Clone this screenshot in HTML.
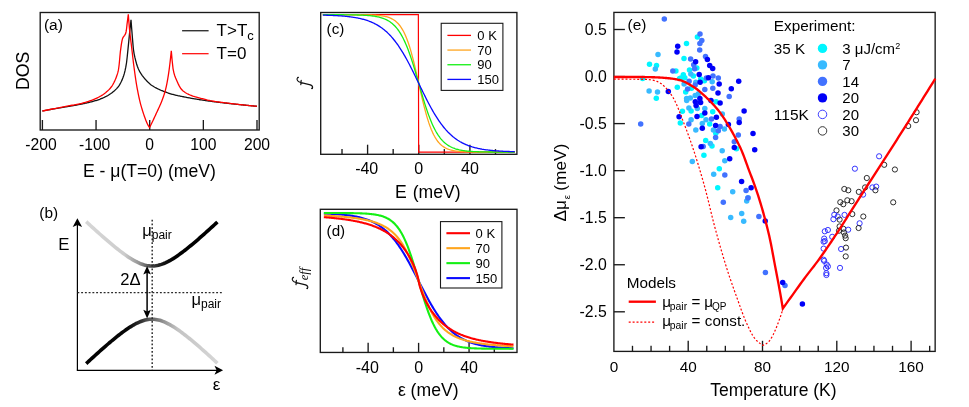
<!DOCTYPE html>
<html><head><meta charset="utf-8"><title>figure</title>
<style>
html,body{margin:0;padding:0;background:#fff;}
body{width:969px;height:407px;overflow:hidden;font-family:"Liberation Sans",sans-serif;}
svg{display:block;will-change:transform;}
text{fill:#000;}
</style></head><body>
<svg width="969" height="407" viewBox="0 0 969 407">
<g opacity="0.999">
<rect x="40.2" y="12.5" width="219" height="117.5" fill="none" stroke="#1a1a1a" stroke-width="1.35"/>
<line x1="42.4" y1="130" x2="42.4" y2="120" stroke="#1a1a1a" stroke-width="1.35" />
<text x="41" y="150.3" font-size="15.7" text-anchor="middle" font-family='"Liberation Sans", sans-serif' >-200</text>
<line x1="96.05" y1="130" x2="96.05" y2="120" stroke="#1a1a1a" stroke-width="1.35" />
<text x="94.65" y="150.3" font-size="15.7" text-anchor="middle" font-family='"Liberation Sans", sans-serif' >-100</text>
<line x1="149.7" y1="130" x2="149.7" y2="120" stroke="#1a1a1a" stroke-width="1.35" />
<text x="149.7" y="150.3" font-size="15.7" text-anchor="middle" font-family='"Liberation Sans", sans-serif' >0</text>
<line x1="203.35" y1="130" x2="203.35" y2="120" stroke="#1a1a1a" stroke-width="1.35" />
<text x="203.35" y="150.3" font-size="15.7" text-anchor="middle" font-family='"Liberation Sans", sans-serif' >100</text>
<line x1="257" y1="130" x2="257" y2="120" stroke="#1a1a1a" stroke-width="1.35" />
<text x="257" y="150.3" font-size="15.7" text-anchor="middle" font-family='"Liberation Sans", sans-serif' >200</text>
<g stroke-linejoin="miter" stroke-miterlimit="10">
<path d="M42.4 111 L43.14 110.86 L43.89 110.72 L44.63 110.58 L45.38 110.44 L46.12 110.31 L46.87 110.17 L47.61 110.03 L48.36 109.9 L49.1 109.76 L49.85 109.63 L50.59 109.49 L51.33 109.36 L52.08 109.23 L52.82 109.1 L53.57 108.97 L54.31 108.84 L55.06 108.71 L55.8 108.58 L56.55 108.45 L57.29 108.33 L58.04 108.2 L58.78 108.08 L59.52 107.95 L60.27 107.83 L61.01 107.7 L61.76 107.58 L62.5 107.46 L63.25 107.33 L63.99 107.2 L64.74 107.08 L65.48 106.95 L66.23 106.82 L66.97 106.69 L67.71 106.56 L68.46 106.43 L69.2 106.3 L69.95 106.17 L70.69 106.05 L71.44 105.92 L72.18 105.79 L72.93 105.66 L73.67 105.53 L74.42 105.4 L75.16 105.27 L75.9 105.14 L76.65 105 L77.39 104.87 L78.14 104.73 L78.88 104.59 L79.63 104.44 L80.37 104.3 L81.12 104.15 L81.86 103.99 L82.61 103.84 L83.35 103.68 L84.09 103.52 L84.84 103.35 L85.58 103.19 L86.33 103.02 L87.07 102.85 L87.82 102.68 L88.56 102.5 L89.31 102.32 L90.05 102.14 L90.79 101.95 L91.54 101.76 L92.28 101.56 L93.03 101.36 L93.77 101.16 L94.52 100.95 L95.26 100.73 L96.01 100.51 L96.75 100.28 L97.5 100.04 L98.24 99.79 L98.98 99.54 L99.73 99.27 L100.47 98.98 L101.22 98.69 L101.96 98.39 L102.71 98.07 L103.45 97.74 L104.2 97.4 L104.94 97.04 L105.69 96.67 L106.43 96.29 L107.17 95.88 L107.92 95.46 L108.66 95.02 L109.41 94.56 L110.15 94.07 L110.9 93.56 L111.64 93.02 L112.39 92.45 L113.13 91.86 L113.88 91.25 L114.62 90.59 L115.36 89.89 L116.11 89.14 L116.85 88.33 L117.6 87.47 L118.34 86.53 L119.09 85.52 L119.83 84.38 L120.58 83.05 L121.32 81.55 L122.07 79.88 L122.81 78.04 L123.55 76.03 L124.3 73.64 L125.04 70.68 L125.79 67.21 L126.53 62.77 L127.28 56.23 L128.02 48.82 L128.77 41.34 L129.51 33.92 L130.26 26.77 L131 19.8 L131.79 29.99 L132.58 39.89 L133.38 49.02 L134.17 54.07 L134.96 57.64 L135.75 60.84 L136.55 63.74 L137.34 66.27 L138.13 68.35 L138.92 70.05 L139.72 71.56 L140.51 72.92 L141.3 74.15 L142.09 75.27 L142.89 76.32 L143.68 77.32 L144.47 78.29 L145.26 79.23 L146.06 80.13 L146.85 80.99 L147.64 81.81 L148.43 82.59 L149.23 83.33 L150.02 84.02 L150.81 84.66 L151.6 85.25 L152.4 85.8 L153.19 86.31 L153.98 86.8 L154.77 87.26 L155.57 87.7 L156.36 88.11 L157.15 88.51 L157.94 88.9 L158.74 89.27 L159.53 89.62 L160.32 89.97 L161.11 90.31 L161.91 90.63 L162.7 90.96 L163.49 91.28 L164.28 91.59 L165.08 91.9 L165.87 92.19 L166.66 92.48 L167.45 92.76 L168.25 93.04 L169.04 93.3 L169.83 93.56 L170.62 93.81 L171.42 94.05 L172.21 94.27 L173 94.49 L173.79 94.7 L174.58 94.9 L175.38 95.09 L176.17 95.28 L176.96 95.45 L177.75 95.63 L178.55 95.79 L179.34 95.96 L180.13 96.12 L180.92 96.27 L181.72 96.43 L182.51 96.59 L183.3 96.74 L184.09 96.9 L184.89 97.06 L185.68 97.21 L186.47 97.37 L187.26 97.52 L188.06 97.68 L188.85 97.83 L189.64 97.98 L190.43 98.13 L191.23 98.27 L192.02 98.42 L192.81 98.56 L193.6 98.7 L194.4 98.83 L195.19 98.97 L195.98 99.1 L196.77 99.23 L197.57 99.36 L198.36 99.48 L199.15 99.61 L199.94 99.74 L200.74 99.86 L201.53 99.98 L202.32 100.1 L203.11 100.22 L203.91 100.34 L204.7 100.46 L205.49 100.57 L206.28 100.68 L207.08 100.8 L207.87 100.91 L208.66 101.02 L209.45 101.13 L210.25 101.23 L211.04 101.34 L211.83 101.44 L212.62 101.55 L213.42 101.65 L214.21 101.75 L215 101.85 L215.79 101.95 L216.58 102.05 L217.38 102.15 L218.17 102.24 L218.96 102.34 L219.75 102.43 L220.55 102.53 L221.34 102.62 L222.13 102.71 L222.92 102.81 L223.72 102.9 L224.51 102.99 L225.3 103.08 L226.09 103.17 L226.89 103.26 L227.68 103.34 L228.47 103.43 L229.26 103.52 L230.06 103.61 L230.85 103.69 L231.64 103.78 L232.43 103.87 L233.23 103.95 L234.02 104.04 L234.81 104.12 L235.6 104.2 L236.4 104.29 L237.19 104.37 L237.98 104.46 L238.77 104.54 L239.57 104.62 L240.36 104.7 L241.15 104.78 L241.94 104.86 L242.74 104.94 L243.53 105.02 L244.32 105.1 L245.11 105.18 L245.91 105.26 L246.7 105.34 L247.49 105.42 L248.28 105.49 L249.08 105.57 L249.87 105.64 L250.66 105.72 L251.45 105.79 L252.25 105.87 L253.04 105.94 L253.83 106.01 L254.62 106.09 L255.42 106.16 L256.21 106.23 L257 106.3" fill="none" stroke="#111" stroke-width="1.3" />
<path d="M42.4 111 L43.63 110.75 L44.87 110.49 L46.1 110.24 L47.33 109.99 L48.57 109.74 L49.8 109.49 L51.04 109.25 L52.27 109 L53.51 108.76 L54.74 108.52 L55.98 108.28 L57.22 108.05 L58.45 107.81 L59.69 107.58 L60.93 107.35 L62.17 107.11 L63.4 106.88 L64.64 106.65 L65.88 106.41 L67.11 106.17 L68.35 105.94 L69.59 105.71 L70.83 105.49 L72.08 105.26 L73.32 105.04 L74.56 104.82 L75.8 104.59 L77.04 104.36 L78.28 104.11 L79.5 103.85 L80.73 103.58 L81.95 103.29 L83.16 102.98 L84.37 102.65 L85.58 102.3 L86.79 101.93 L88 101.54 L89.2 101.13 L90.39 100.71 L91.58 100.27 L92.76 99.81 L93.93 99.34 L95.09 98.85 L96.23 98.35 L97.36 97.83 L98.49 97.28 L99.61 96.68 L100.72 96.05 L101.81 95.39 L102.87 94.7 L103.89 93.98 L104.87 93.24 L105.85 92.45 L106.83 91.62 L107.78 90.76 L108.7 89.87 L109.59 88.94 L110.43 87.99 L111.2 87.02 L111.92 86.03 L112.58 85 L113.22 83.92 L113.82 82.81 L114.4 81.66 L114.93 80.5 L115.44 79.33 L115.91 78.15 L116.35 76.98 L116.78 75.8 L117.19 74.6 L117.58 73.39 L117.92 72.17 L118.21 70.95 L118.45 69.72 L118.64 68.49 L118.82 67.26 L118.98 66.01 L119.13 64.77 L119.26 63.52 L119.38 62.26 L119.5 61 L119.61 59.75 L119.72 58.49 L119.83 57.22 L119.94 55.96 L120.06 54.71 L120.19 53.45 L120.32 52.19 L120.48 50.94 L120.64 49.7 L120.81 48.44 L120.98 47.17 L121.15 45.9 L121.33 44.63 L121.53 43.37 L121.75 42.13 L121.99 40.9 L122.27 39.7 L122.59 38.53 L123.09 37.42 L123.82 36.35 L124.62 35.3 L125.33 34.23 L125.8 33.12 L126.06 31.94 L126.27 30.73 L126.45 29.49 L126.61 28.23 L126.75 26.95 L126.89 25.67 L127.03 24.4 L127.18 23.14 L127.35 21.89 L127.51 20.65 L127.67 19.4 L127.83 18.15 L127.99 16.9 L128.15 15.65 L128.3 14.4 L128.66 19.09 L129.02 23.52 L129.38 27.66 L129.74 31.45 L130.11 34.85 L130.47 37.93 L130.83 40.82 L131.19 43.66 L131.55 46.58 L131.91 49.64 L132.27 52.77 L132.63 55.93 L132.99 59.05 L133.35 62.09 L133.72 64.99 L134.08 67.72 L134.44 70.39 L134.8 73.02 L135.16 75.59 L135.52 78.08 L135.88 80.48 L136.24 82.79 L136.6 84.99 L136.96 87.06 L137.33 89.01 L137.69 90.91 L138.05 92.76 L138.41 94.56 L138.77 96.3 L139.13 97.99 L139.49 99.61 L139.85 101.16 L140.21 102.65 L140.57 104.06 L140.94 105.4 L141.3 106.66 L141.66 107.85 L142.02 109.03 L142.38 110.19 L142.74 111.34 L143.1 112.47 L143.46 113.58 L143.82 114.67 L144.18 115.74 L144.55 116.78 L144.91 117.8 L145.27 118.78 L145.63 119.73 L145.99 120.65 L146.35 121.53 L146.71 122.37 L147.07 123.17 L147.43 123.93 L147.79 124.65 L148.16 125.32 L148.52 125.94 L148.88 126.52 L149.24 127.03 L149.6 127.5 L149.97 126.76 L150.34 126.02 L150.7 125.27 L151.07 124.52 L151.44 123.77 L151.81 123.01 L152.17 122.24 L152.54 121.47 L152.91 120.7 L153.28 119.93 L153.65 119.15 L154.01 118.36 L154.38 117.57 L154.75 116.78 L155.12 115.99 L155.48 115.19 L155.85 114.38 L156.22 113.58 L156.59 112.77 L156.96 111.97 L157.32 111.18 L157.69 110.39 L158.06 109.6 L158.43 108.81 L158.79 108.02 L159.16 107.22 L159.53 106.41 L159.9 105.59 L160.27 104.75 L160.63 103.9 L161 103.03 L161.37 102.14 L161.74 101.22 L162.11 100.27 L162.47 99.29 L162.84 98.29 L163.21 97.25 L163.58 96.19 L163.94 95.09 L164.31 93.94 L164.68 92.74 L165.05 91.47 L165.42 90.12 L165.78 88.69 L166.15 87.16 L166.52 85.48 L166.89 83.65 L167.25 81.69 L167.62 79.6 L167.99 77.38 L168.36 75.06 L168.73 72.63 L169.09 70.04 L169.46 67.25 L169.83 64.27 L170.2 61.13 L170.56 57.82 L170.93 54.38 L171.3 50.8 L172.17 60.77 L173.03 68.53 L173.9 72.85 L174.76 75.8 L175.63 78.08 L176.49 80.06 L177.36 82.01 L178.23 83.87 L179.09 85.6 L179.96 87.16 L180.82 88.5 L181.69 89.58 L182.55 90.41 L183.42 91.16 L184.28 91.83 L185.15 92.44 L186.02 92.99 L186.88 93.49 L187.75 93.95 L188.61 94.38 L189.48 94.77 L190.34 95.14 L191.21 95.48 L192.08 95.8 L192.94 96.1 L193.81 96.38 L194.67 96.65 L195.54 96.9 L196.4 97.14 L197.27 97.37 L198.14 97.6 L199 97.82 L199.87 98.05 L200.73 98.27 L201.6 98.51 L202.46 98.75 L203.33 98.98 L204.19 99.22 L205.06 99.45 L205.93 99.68 L206.79 99.9 L207.66 100.1 L208.52 100.3 L209.39 100.48 L210.25 100.65 L211.12 100.8 L211.99 100.96 L212.85 101.1 L213.72 101.24 L214.58 101.38 L215.45 101.52 L216.31 101.64 L217.18 101.77 L218.05 101.89 L218.91 102.01 L219.78 102.13 L220.64 102.24 L221.51 102.36 L222.37 102.47 L223.24 102.58 L224.11 102.68 L224.97 102.79 L225.84 102.89 L226.7 103 L227.57 103.1 L228.43 103.21 L229.3 103.31 L230.16 103.42 L231.03 103.53 L231.9 103.63 L232.76 103.73 L233.63 103.84 L234.49 103.94 L235.36 104.04 L236.22 104.14 L237.09 104.24 L237.96 104.34 L238.82 104.44 L239.69 104.54 L240.55 104.64 L241.42 104.74 L242.28 104.83 L243.15 104.93 L244.02 105.02 L244.88 105.11 L245.75 105.2 L246.61 105.29 L247.48 105.38 L248.34 105.47 L249.21 105.56 L250.07 105.65 L250.94 105.73 L251.81 105.82 L252.67 105.9 L253.54 105.98 L254.4 106.06 L255.27 106.14 L256.13 106.22 L257 106.3" fill="none" stroke="#f00" stroke-width="1.3" />
</g>
<text x="149.4" y="177.3" font-size="17.6" text-anchor="middle" font-family='"Liberation Sans", sans-serif' >E - μ(T=0) (meV)</text>
<text x="43.9" y="30.4" font-size="15.5" text-anchor="start" font-family='"Liberation Sans", sans-serif' >(a)</text>
<text transform="translate(28.9 70.8) rotate(-90)" font-size="17.7" text-anchor="middle" font-family='"Liberation Sans", sans-serif'>DOS</text>
<line x1="182.1" y1="30.75" x2="208.6" y2="30.75" stroke="#111" stroke-width="1.2" />
<line x1="182.1" y1="53.7" x2="208.6" y2="53.7" stroke="#f00" stroke-width="1.2" />
<text x="216.6" y="36.4" font-size="17" text-anchor="start" font-family='"Liberation Sans", sans-serif' >T&gt;T<tspan font-size="13" dy="3.9">c</tspan></text>
<text x="216.6" y="58.5" font-size="17" text-anchor="start" font-family='"Liberation Sans", sans-serif' >T=0</text>
<defs>
<linearGradient id="gu" gradientUnits="userSpaceOnUse" x1="86" y1="0" x2="217.5" y2="0"><stop offset="0" stop-color="#d6d6d6"/><stop offset="0.29" stop-color="#cdcdcd"/><stop offset="0.40" stop-color="#969696"/><stop offset="0.5" stop-color="#444"/><stop offset="0.58" stop-color="#161616"/><stop offset="0.67" stop-color="#000"/><stop offset="1" stop-color="#000"/></linearGradient>
<linearGradient id="gl" gradientUnits="userSpaceOnUse" x1="86" y1="0" x2="217.5" y2="0"><stop offset="0" stop-color="#000"/><stop offset="0.32" stop-color="#080808"/><stop offset="0.42" stop-color="#333"/><stop offset="0.5" stop-color="#636363"/><stop offset="0.6" stop-color="#999"/><stop offset="0.7" stop-color="#c4c4c4"/><stop offset="1" stop-color="#d6d6d6"/></linearGradient>
</defs>
<path d="M86.2 221.63 L87.67 222.99 L89.15 224.35 L90.62 225.71 L92.1 227.06 L93.57 228.4 L95.04 229.74 L96.52 231.07 L97.99 232.4 L99.47 233.72 L100.94 235.03 L102.42 236.33 L103.89 237.63 L105.36 238.91 L106.84 240.19 L108.31 241.45 L109.79 242.7 L111.26 243.95 L112.73 245.17 L114.21 246.39 L115.68 247.58 L117.16 248.76 L118.63 249.93 L120.11 251.07 L121.58 252.19 L123.05 253.29 L124.53 254.36 L126 255.41 L127.48 256.42 L128.95 257.4 L130.42 258.35 L131.9 259.26 L133.37 260.13 L134.85 260.95 L136.32 261.72 L137.8 262.44 L139.27 263.11 L140.74 263.72 L142.22 264.26 L143.69 264.73 L145.17 265.14 L146.64 265.47 L148.11 265.72 L149.59 265.89 L151.06 265.98 L152.54 265.99 L154.01 265.92 L155.49 265.77 L156.96 265.54 L158.43 265.23 L159.91 264.85 L161.38 264.39 L162.86 263.87 L164.33 263.28 L165.8 262.63 L167.28 261.92 L168.75 261.16 L170.23 260.35 L171.7 259.5 L173.18 258.6 L174.65 257.66 L176.12 256.69 L177.6 255.68 L179.07 254.65 L180.55 253.58 L182.02 252.49 L183.49 251.38 L184.97 250.24 L186.44 249.08 L187.92 247.91 L189.39 246.71 L190.87 245.5 L192.34 244.28 L193.81 243.04 L195.29 241.79 L196.76 240.53 L198.24 239.26 L199.71 237.98 L201.18 236.68 L202.66 235.38 L204.13 234.07 L205.61 232.76 L207.08 231.43 L208.56 230.1 L210.03 228.76 L211.5 227.42 L212.98 226.07 L214.45 224.72 L215.93 223.36 L217.4 222" fill="none" stroke="url(#gu)" stroke-width="3.6" />
<path d="M86.2 363.57 L87.67 362.21 L89.15 360.85 L90.62 359.49 L92.1 358.14 L93.57 356.8 L95.04 355.46 L96.52 354.13 L97.99 352.8 L99.47 351.48 L100.94 350.17 L102.42 348.87 L103.89 347.57 L105.36 346.29 L106.84 345.01 L108.31 343.75 L109.79 342.5 L111.26 341.25 L112.73 340.03 L114.21 338.81 L115.68 337.62 L117.16 336.44 L118.63 335.27 L120.11 334.13 L121.58 333.01 L123.05 331.91 L124.53 330.84 L126 329.79 L127.48 328.78 L128.95 327.8 L130.42 326.85 L131.9 325.94 L133.37 325.07 L134.85 324.25 L136.32 323.48 L137.8 322.76 L139.27 322.09 L140.74 321.48 L142.22 320.94 L143.69 320.47 L145.17 320.06 L146.64 319.73 L148.11 319.48 L149.59 319.31 L151.06 319.22 L152.54 319.21 L154.01 319.28 L155.49 319.43 L156.96 319.66 L158.43 319.97 L159.91 320.35 L161.38 320.81 L162.86 321.33 L164.33 321.92 L165.8 322.57 L167.28 323.28 L168.75 324.04 L170.23 324.85 L171.7 325.7 L173.18 326.6 L174.65 327.54 L176.12 328.51 L177.6 329.52 L179.07 330.55 L180.55 331.62 L182.02 332.71 L183.49 333.82 L184.97 334.96 L186.44 336.12 L187.92 337.29 L189.39 338.49 L190.87 339.7 L192.34 340.92 L193.81 342.16 L195.29 343.41 L196.76 344.67 L198.24 345.94 L199.71 347.22 L201.18 348.52 L202.66 349.82 L204.13 351.13 L205.61 352.44 L207.08 353.77 L208.56 355.1 L210.03 356.44 L211.5 357.78 L212.98 359.13 L214.45 360.48 L215.93 361.84 L217.4 363.2" fill="none" stroke="url(#gl)" stroke-width="3.6" />
<line x1="77.4" y1="370.3" x2="77.4" y2="222" stroke="#000" stroke-width="1.2" />
<line x1="76.8" y1="370.3" x2="218" y2="370.3" stroke="#000" stroke-width="1.2" />
<path d="M77.4 218.3 L72.7 227 L77.4 225.1 L82.1 227 Z" fill="#000"/>
<path d="M223.1 370.3 L214.5 365.8 L216.6 370.3 L214.5 374.8 Z" fill="#000"/>
<line x1="152.2" y1="219.7" x2="152.2" y2="370" stroke="#2a2a2a" stroke-width="1.45" stroke-dasharray="1.9 1.85"/>
<line x1="77.4" y1="292.6" x2="223" y2="292.6" stroke="#2a2a2a" stroke-width="1.45" stroke-dasharray="1.9 1.85"/>
<line x1="147.1" y1="270" x2="147.1" y2="314.5" stroke="#000" stroke-width="1.5" />
<path d="M147.1 265.9 L143.3 274.6 L147.1 272.8 L150.9 274.6 Z" fill="#000"/>
<path d="M147.1 318.4 L143.3 309.7 L147.1 311.5 L150.9 309.7 Z" fill="#000"/>
<text x="39.3" y="217.6" font-size="15.4" text-anchor="start" font-family='"Liberation Sans", sans-serif' >(b)</text>
<text x="58.2" y="250.2" font-size="16.8" text-anchor="start" font-family='"Liberation Sans", sans-serif' >E</text>
<text x="120.3" y="284.6" font-size="16.6" text-anchor="start" font-family='"Liberation Sans", sans-serif' >2Δ</text>
<text x="142.2" y="236.3" font-size="16.5" text-anchor="start" font-family='"Liberation Sans", sans-serif' >μ<tspan font-size="12" dy="2.8">pair</tspan></text>
<text x="191.5" y="304.7" font-size="16.5" text-anchor="start" font-family='"Liberation Sans", sans-serif' >μ<tspan font-size="12" dy="2.8">pair</tspan></text>
<text x="212.8" y="390.2" font-size="17.2" text-anchor="start" font-family='"Liberation Sans", sans-serif' >ε</text>
<rect x="320.7" y="12.5" width="196.2" height="141.8" fill="none" stroke="#1a1a1a" stroke-width="1.35"/>
<line x1="342.01" y1="154.3" x2="342.01" y2="149.1" stroke="#1a1a1a" stroke-width="1.35" />
<line x1="367.59" y1="154.3" x2="367.59" y2="144.7" stroke="#1a1a1a" stroke-width="1.35" />
<text x="366.69" y="173.9" font-size="16" text-anchor="middle" font-family='"Liberation Sans", sans-serif' >-40</text>
<line x1="393.17" y1="154.3" x2="393.17" y2="149.1" stroke="#1a1a1a" stroke-width="1.35" />
<line x1="418.75" y1="154.3" x2="418.75" y2="144.7" stroke="#1a1a1a" stroke-width="1.35" />
<text x="418.75" y="173.9" font-size="16" text-anchor="middle" font-family='"Liberation Sans", sans-serif' >0</text>
<line x1="444.33" y1="154.3" x2="444.33" y2="149.1" stroke="#1a1a1a" stroke-width="1.35" />
<line x1="469.91" y1="154.3" x2="469.91" y2="144.7" stroke="#1a1a1a" stroke-width="1.35" />
<text x="469.91" y="173.9" font-size="16" text-anchor="middle" font-family='"Liberation Sans", sans-serif' >40</text>
<line x1="495.49" y1="154.3" x2="495.49" y2="149.1" stroke="#1a1a1a" stroke-width="1.35" />
<path d="M322.82 14.7 L418.35 14.7 L418.65 152.1 L514.8 152.1" fill="none" stroke="#ff0000" stroke-width="1.2" />
<path d="M322.82 14.7 L323.63 14.7 L324.43 14.7 L325.23 14.7 L326.04 14.7 L326.84 14.7 L327.64 14.7 L328.45 14.7 L329.25 14.7 L330.05 14.7 L330.86 14.7 L331.66 14.7 L332.46 14.7 L333.27 14.7 L334.07 14.7 L334.87 14.7 L335.68 14.7 L336.48 14.7 L337.28 14.7 L338.09 14.7 L338.89 14.7 L339.69 14.7 L340.5 14.71 L341.3 14.71 L342.1 14.71 L342.91 14.71 L343.71 14.71 L344.51 14.71 L345.32 14.71 L346.12 14.71 L346.92 14.71 L347.73 14.71 L348.53 14.72 L349.33 14.72 L350.14 14.72 L350.94 14.72 L351.74 14.72 L352.55 14.73 L353.35 14.73 L354.15 14.73 L354.96 14.74 L355.76 14.74 L356.56 14.74 L357.36 14.75 L358.17 14.75 L358.97 14.76 L359.77 14.77 L360.58 14.77 L361.38 14.78 L362.18 14.79 L362.99 14.8 L363.79 14.81 L364.59 14.82 L365.4 14.84 L366.2 14.85 L367 14.87 L367.81 14.89 L368.61 14.91 L369.41 14.93 L370.22 14.95 L371.02 14.98 L371.82 15.01 L372.63 15.05 L373.43 15.09 L374.23 15.13 L375.04 15.17 L375.84 15.23 L376.64 15.28 L377.45 15.35 L378.25 15.42 L379.05 15.5 L379.86 15.58 L380.66 15.68 L381.46 15.79 L382.27 15.9 L383.07 16.03 L383.87 16.18 L384.68 16.34 L385.48 16.52 L386.28 16.71 L387.09 16.93 L387.89 17.17 L388.69 17.44 L389.5 17.73 L390.3 18.05 L391.1 18.41 L391.9 18.81 L392.71 19.24 L393.51 19.72 L394.31 20.25 L395.12 20.83 L395.92 21.47 L396.72 22.18 L397.53 22.95 L398.33 23.79 L399.13 24.72 L399.94 25.73 L400.74 26.83 L401.54 28.04 L402.35 29.34 L403.15 30.76 L403.95 32.3 L404.76 33.96 L405.56 35.75 L406.36 37.67 L407.17 39.74 L407.97 41.94 L408.77 44.28 L409.58 46.77 L410.38 49.4 L411.18 52.17 L411.99 55.08 L412.79 58.11 L413.59 61.26 L414.4 64.51 L415.2 67.86 L416 71.29 L416.81 74.79 L417.61 78.33 L418.41 81.9 L419.22 85.47 L420.02 89.04 L420.82 92.57 L421.63 96.06 L422.43 99.48 L423.23 102.81 L424.04 106.05 L424.84 109.18 L425.64 112.19 L426.44 115.08 L427.25 117.83 L428.05 120.43 L428.85 122.9 L429.66 125.22 L430.46 127.4 L431.26 129.44 L432.07 131.34 L432.87 133.11 L433.67 134.75 L434.48 136.27 L435.28 137.67 L436.08 138.96 L436.89 140.15 L437.69 141.24 L438.49 142.23 L439.3 143.15 L440.1 143.98 L440.9 144.74 L441.71 145.43 L442.51 146.06 L443.31 146.63 L444.12 147.16 L444.92 147.63 L445.72 148.06 L446.53 148.45 L447.33 148.8 L448.13 149.12 L448.94 149.41 L449.74 149.67 L450.54 149.91 L451.35 150.12 L452.15 150.31 L452.95 150.49 L453.76 150.65 L454.56 150.79 L455.36 150.92 L456.17 151.03 L456.97 151.14 L457.77 151.23 L458.58 151.32 L459.38 151.39 L460.18 151.46 L460.98 151.53 L461.79 151.58 L462.59 151.63 L463.39 151.68 L464.2 151.72 L465 151.76 L465.8 151.79 L466.61 151.82 L467.41 151.85 L468.21 151.87 L469.02 151.9 L469.82 151.92 L470.62 151.94 L471.43 151.95 L472.23 151.97 L473.03 151.98 L473.84 151.99 L474.64 152 L475.44 152.01 L476.25 152.02 L477.05 152.03 L477.85 152.04 L478.66 152.04 L479.46 152.05 L480.26 152.05 L481.07 152.06 L481.87 152.06 L482.67 152.07 L483.48 152.07 L484.28 152.07 L485.08 152.07 L485.89 152.08 L486.69 152.08 L487.49 152.08 L488.3 152.08 L489.1 152.08 L489.9 152.09 L490.71 152.09 L491.51 152.09 L492.31 152.09 L493.12 152.09 L493.92 152.09 L494.72 152.09 L495.52 152.09 L496.33 152.09 L497.13 152.09 L497.93 152.1 L498.74 152.1 L499.54 152.1 L500.34 152.1 L501.15 152.1 L501.95 152.1 L502.75 152.1 L503.56 152.1 L504.36 152.1 L505.16 152.1 L505.97 152.1 L506.77 152.1 L507.57 152.1 L508.38 152.1 L509.18 152.1 L509.98 152.1 L510.79 152.1 L511.59 152.1 L512.39 152.1 L513.2 152.1 L514 152.1 L514.8 152.1" fill="none" stroke="#ffa51e" stroke-width="1.3" />
<path d="M322.82 14.71 L323.63 14.71 L324.43 14.71 L325.23 14.71 L326.04 14.71 L326.84 14.71 L327.64 14.71 L328.45 14.72 L329.25 14.72 L330.05 14.72 L330.86 14.72 L331.66 14.72 L332.46 14.72 L333.27 14.72 L334.07 14.73 L334.87 14.73 L335.68 14.73 L336.48 14.73 L337.28 14.74 L338.09 14.74 L338.89 14.74 L339.69 14.75 L340.5 14.75 L341.3 14.76 L342.1 14.76 L342.91 14.77 L343.71 14.77 L344.51 14.78 L345.32 14.78 L346.12 14.79 L346.92 14.8 L347.73 14.81 L348.53 14.82 L349.33 14.83 L350.14 14.84 L350.94 14.85 L351.74 14.86 L352.55 14.87 L353.35 14.89 L354.15 14.9 L354.96 14.92 L355.76 14.94 L356.56 14.96 L357.36 14.98 L358.17 15.01 L358.97 15.03 L359.77 15.06 L360.58 15.09 L361.38 15.12 L362.18 15.16 L362.99 15.2 L363.79 15.24 L364.59 15.28 L365.4 15.33 L366.2 15.38 L367 15.44 L367.81 15.5 L368.61 15.57 L369.41 15.64 L370.22 15.72 L371.02 15.81 L371.82 15.9 L372.63 16 L373.43 16.11 L374.23 16.23 L375.04 16.35 L375.84 16.49 L376.64 16.64 L377.45 16.8 L378.25 16.98 L379.05 17.17 L379.86 17.37 L380.66 17.59 L381.46 17.83 L382.27 18.09 L383.07 18.36 L383.87 18.66 L384.68 18.99 L385.48 19.34 L386.28 19.71 L387.09 20.12 L387.89 20.56 L388.69 21.03 L389.5 21.54 L390.3 22.08 L391.1 22.67 L391.9 23.3 L392.71 23.98 L393.51 24.7 L394.31 25.48 L395.12 26.31 L395.92 27.2 L396.72 28.15 L397.53 29.17 L398.33 30.25 L399.13 31.4 L399.94 32.63 L400.74 33.93 L401.54 35.31 L402.35 36.77 L403.15 38.31 L403.95 39.94 L404.76 41.65 L405.56 43.44 L406.36 45.33 L407.17 47.3 L407.97 49.36 L408.77 51.5 L409.58 53.72 L410.38 56.02 L411.18 58.4 L411.99 60.84 L412.79 63.36 L413.59 65.93 L414.4 68.56 L415.2 71.23 L416 73.95 L416.81 76.69 L417.61 79.45 L418.41 82.23 L419.22 85.01 L420.02 87.79 L420.82 90.55 L421.63 93.29 L422.43 96 L423.23 98.66 L424.04 101.28 L424.84 103.85 L425.64 106.35 L426.44 108.79 L427.25 111.15 L428.05 113.44 L428.85 115.65 L429.66 117.78 L430.46 119.82 L431.26 121.78 L432.07 123.65 L432.87 125.43 L433.67 127.13 L434.48 128.74 L435.28 130.27 L436.08 131.72 L436.89 133.08 L437.69 134.37 L438.49 135.58 L439.3 136.72 L440.1 137.8 L440.9 138.8 L441.71 139.74 L442.51 140.62 L443.31 141.45 L444.12 142.22 L444.92 142.93 L445.72 143.6 L446.53 144.23 L447.33 144.81 L448.13 145.35 L448.94 145.85 L449.74 146.31 L450.54 146.75 L451.35 147.15 L452.15 147.52 L452.95 147.86 L453.76 148.18 L454.56 148.48 L455.36 148.76 L456.17 149.01 L456.97 149.25 L457.77 149.46 L458.58 149.66 L459.38 149.85 L460.18 150.02 L460.98 150.18 L461.79 150.33 L462.59 150.47 L463.39 150.59 L464.2 150.71 L465 150.82 L465.8 150.91 L466.61 151.01 L467.41 151.09 L468.21 151.17 L469.02 151.24 L469.82 151.31 L470.62 151.37 L471.43 151.42 L472.23 151.48 L473.03 151.53 L473.84 151.57 L474.64 151.61 L475.44 151.65 L476.25 151.68 L477.05 151.72 L477.85 151.75 L478.66 151.77 L479.46 151.8 L480.26 151.82 L481.07 151.84 L481.87 151.86 L482.67 151.88 L483.48 151.9 L484.28 151.91 L485.08 151.93 L485.89 151.94 L486.69 151.95 L487.49 151.97 L488.3 151.98 L489.1 151.99 L489.9 151.99 L490.71 152 L491.51 152.01 L492.31 152.02 L493.12 152.02 L493.92 152.03 L494.72 152.04 L495.52 152.04 L496.33 152.04 L497.13 152.05 L497.93 152.05 L498.74 152.06 L499.54 152.06 L500.34 152.06 L501.15 152.07 L501.95 152.07 L502.75 152.07 L503.56 152.07 L504.36 152.08 L505.16 152.08 L505.97 152.08 L506.77 152.08 L507.57 152.08 L508.38 152.08 L509.18 152.08 L509.98 152.09 L510.79 152.09 L511.59 152.09 L512.39 152.09 L513.2 152.09 L514 152.09 L514.8 152.09" fill="none" stroke="#14f014" stroke-width="1.3" />
<path d="M322.82 15.11 L323.63 15.13 L324.43 15.16 L325.23 15.18 L326.04 15.2 L326.84 15.23 L327.64 15.25 L328.45 15.28 L329.25 15.31 L330.05 15.34 L330.86 15.37 L331.66 15.4 L332.46 15.44 L333.27 15.48 L334.07 15.51 L334.87 15.55 L335.68 15.6 L336.48 15.64 L337.28 15.69 L338.09 15.74 L338.89 15.79 L339.69 15.84 L340.5 15.9 L341.3 15.96 L342.1 16.02 L342.91 16.08 L343.71 16.15 L344.51 16.22 L345.32 16.3 L346.12 16.38 L346.92 16.46 L347.73 16.55 L348.53 16.64 L349.33 16.73 L350.14 16.83 L350.94 16.94 L351.74 17.05 L352.55 17.16 L353.35 17.28 L354.15 17.41 L354.96 17.54 L355.76 17.68 L356.56 17.82 L357.36 17.97 L358.17 18.13 L358.97 18.3 L359.77 18.47 L360.58 18.65 L361.38 18.85 L362.18 19.05 L362.99 19.25 L363.79 19.47 L364.59 19.7 L365.4 19.94 L366.2 20.19 L367 20.45 L367.81 20.73 L368.61 21.01 L369.41 21.31 L370.22 21.63 L371.02 21.95 L371.82 22.29 L372.63 22.65 L373.43 23.02 L374.23 23.41 L375.04 23.82 L375.84 24.24 L376.64 24.68 L377.45 25.14 L378.25 25.62 L379.05 26.11 L379.86 26.63 L380.66 27.17 L381.46 27.74 L382.27 28.32 L383.07 28.93 L383.87 29.56 L384.68 30.22 L385.48 30.9 L386.28 31.61 L387.09 32.34 L387.89 33.1 L388.69 33.89 L389.5 34.7 L390.3 35.55 L391.1 36.42 L391.9 37.33 L392.71 38.26 L393.51 39.22 L394.31 40.22 L395.12 41.24 L395.92 42.3 L396.72 43.39 L397.53 44.5 L398.33 45.65 L399.13 46.83 L399.94 48.05 L400.74 49.29 L401.54 50.56 L402.35 51.86 L403.15 53.2 L403.95 54.56 L404.76 55.94 L405.56 57.36 L406.36 58.8 L407.17 60.27 L407.97 61.76 L408.77 63.28 L409.58 64.81 L410.38 66.37 L411.18 67.95 L411.99 69.54 L412.79 71.15 L413.59 72.77 L414.4 74.41 L415.2 76.05 L416 77.7 L416.81 79.36 L417.61 81.03 L418.41 82.7 L419.22 84.37 L420.02 86.04 L420.82 87.7 L421.63 89.36 L422.43 91.01 L423.23 92.66 L424.04 94.29 L424.84 95.91 L425.64 97.52 L426.44 99.11 L427.25 100.68 L428.05 102.23 L428.85 103.77 L429.66 105.28 L430.46 106.76 L431.26 108.23 L432.07 109.67 L432.87 111.08 L433.67 112.46 L434.48 113.82 L435.28 115.15 L436.08 116.44 L436.89 117.71 L437.69 118.95 L438.49 120.16 L439.3 121.33 L440.1 122.48 L440.9 123.59 L441.71 124.67 L442.51 125.72 L443.31 126.74 L444.12 127.73 L444.92 128.69 L445.72 129.62 L446.53 130.52 L447.33 131.39 L448.13 132.23 L448.94 133.04 L449.74 133.82 L450.54 134.58 L451.35 135.31 L452.15 136.01 L452.95 136.69 L453.76 137.34 L454.56 137.97 L455.36 138.57 L456.17 139.16 L456.97 139.71 L457.77 140.25 L458.58 140.77 L459.38 141.26 L460.18 141.74 L460.98 142.19 L461.79 142.63 L462.59 143.05 L463.39 143.45 L464.2 143.84 L465 144.21 L465.8 144.56 L466.61 144.9 L467.41 145.22 L468.21 145.53 L469.02 145.83 L469.82 146.12 L470.62 146.39 L471.43 146.65 L472.23 146.9 L473.03 147.13 L473.84 147.36 L474.64 147.58 L475.44 147.79 L476.25 147.99 L477.05 148.18 L477.85 148.36 L478.66 148.53 L479.46 148.69 L480.26 148.85 L481.07 149 L481.87 149.15 L482.67 149.28 L483.48 149.41 L484.28 149.54 L485.08 149.66 L485.89 149.77 L486.69 149.88 L487.49 149.98 L488.3 150.08 L489.1 150.18 L489.9 150.27 L490.71 150.35 L491.51 150.44 L492.31 150.51 L493.12 150.59 L493.92 150.66 L494.72 150.73 L495.52 150.79 L496.33 150.85 L497.13 150.91 L497.93 150.97 L498.74 151.02 L499.54 151.07 L500.34 151.12 L501.15 151.17 L501.95 151.21 L502.75 151.25 L503.56 151.29 L504.36 151.33 L505.16 151.37 L505.97 151.4 L506.77 151.43 L507.57 151.47 L508.38 151.5 L509.18 151.52 L509.98 151.55 L510.79 151.58 L511.59 151.6 L512.39 151.63 L513.2 151.65 L514 151.67 L514.8 151.69" fill="none" stroke="#0a0aff" stroke-width="1.3" />
<text x="395.1" y="197.5" font-size="17.6" text-anchor="start" font-family='"Liberation Sans", sans-serif' >E<tspan dx="0.9"> (meV)</tspan></text>
<text x="326.6" y="34.3" font-size="15.2" text-anchor="start" font-family='"Liberation Sans", sans-serif' >(c)</text>
<g transform="translate(296.9 77.0)"><path d="M1.1 0.4 C-0.4 1.5 -0.2 3.5 2 4.8 C5 6.4 10 6.6 13.5 7.9 C15.6 8.8 16.4 10.2 15.2 11.5 M4.3 3.3 L3.9 7.6" fill="none" stroke="#111" stroke-width="1.15" stroke-linecap="round"/><circle cx="1.2" cy="0.5" r="0.8" fill="#111"/><circle cx="15.1" cy="11.4" r="0.8" fill="#111"/></g>
<rect x="441.2" y="23.3" width="61.7" height="67.1" fill="#fff" stroke="#1a1a1a" stroke-width="1.1"/>
<line x1="447.4" y1="35.4" x2="471" y2="35.4" stroke="#ff0000" stroke-width="1.3" />
<text x="477.3" y="39.9" font-size="13" text-anchor="start" font-family='"Liberation Sans", sans-serif' >0 K</text>
<line x1="447.4" y1="50.07" x2="471" y2="50.07" stroke="#ffa51e" stroke-width="1.3" />
<text x="477.3" y="54.57" font-size="13" text-anchor="start" font-family='"Liberation Sans", sans-serif' >70</text>
<line x1="447.4" y1="64.74" x2="471" y2="64.74" stroke="#14f014" stroke-width="1.3" />
<text x="477.3" y="69.24" font-size="13" text-anchor="start" font-family='"Liberation Sans", sans-serif' >90</text>
<line x1="447.4" y1="79.41" x2="471" y2="79.41" stroke="#0a0aff" stroke-width="1.3" />
<text x="477.3" y="83.91" font-size="13" text-anchor="start" font-family='"Liberation Sans", sans-serif' >150</text>
<rect x="320.3" y="209.3" width="196.7" height="143.15" fill="none" stroke="#1a1a1a" stroke-width="1.35"/>
<line x1="342.9" y1="352.45" x2="342.9" y2="347.25" stroke="#1a1a1a" stroke-width="1.35" />
<line x1="368.13" y1="352.45" x2="368.13" y2="342.85" stroke="#1a1a1a" stroke-width="1.35" />
<text x="367.23" y="372.8" font-size="16" text-anchor="middle" font-family='"Liberation Sans", sans-serif' >-40</text>
<line x1="393.37" y1="352.45" x2="393.37" y2="347.25" stroke="#1a1a1a" stroke-width="1.35" />
<line x1="418.6" y1="352.45" x2="418.6" y2="342.85" stroke="#1a1a1a" stroke-width="1.35" />
<text x="418.6" y="372.8" font-size="16" text-anchor="middle" font-family='"Liberation Sans", sans-serif' >0</text>
<line x1="443.83" y1="352.45" x2="443.83" y2="347.25" stroke="#1a1a1a" stroke-width="1.35" />
<line x1="469.07" y1="352.45" x2="469.07" y2="342.85" stroke="#1a1a1a" stroke-width="1.35" />
<text x="469.07" y="372.8" font-size="16" text-anchor="middle" font-family='"Liberation Sans", sans-serif' >40</text>
<line x1="494.3" y1="352.45" x2="494.3" y2="347.25" stroke="#1a1a1a" stroke-width="1.35" />
<path d="M323.85 213.56 L324.64 213.59 L325.43 213.62 L326.23 213.65 L327.02 213.68 L327.81 213.71 L328.61 213.74 L329.4 213.78 L330.19 213.81 L330.99 213.85 L331.78 213.89 L332.57 213.93 L333.37 213.97 L334.16 214.02 L334.95 214.07 L335.75 214.12 L336.54 214.17 L337.33 214.22 L338.13 214.28 L338.92 214.34 L339.72 214.4 L340.51 214.47 L341.3 214.53 L342.1 214.61 L342.89 214.68 L343.68 214.76 L344.48 214.84 L345.27 214.92 L346.06 215.01 L346.86 215.11 L347.65 215.2 L348.44 215.31 L349.24 215.41 L350.03 215.52 L350.82 215.64 L351.62 215.76 L352.41 215.89 L353.2 216.02 L354 216.16 L354.79 216.3 L355.58 216.46 L356.38 216.61 L357.17 216.78 L357.96 216.95 L358.76 217.13 L359.55 217.32 L360.34 217.52 L361.14 217.72 L361.93 217.93 L362.73 218.16 L363.52 218.39 L364.31 218.63 L365.11 218.88 L365.9 219.15 L366.69 219.42 L367.49 219.71 L368.28 220.01 L369.07 220.32 L369.87 220.65 L370.66 220.98 L371.45 221.34 L372.25 221.7 L373.04 222.08 L373.83 222.48 L374.63 222.89 L375.42 223.32 L376.21 223.77 L377.01 224.23 L377.8 224.71 L378.59 225.21 L379.39 225.73 L380.18 226.27 L380.97 226.83 L381.77 227.42 L382.56 228.02 L383.35 228.64 L384.15 229.29 L384.94 229.96 L385.74 230.65 L386.53 231.37 L387.32 232.11 L388.12 232.87 L388.91 233.67 L389.7 234.48 L390.5 235.33 L391.29 236.2 L392.08 237.09 L392.88 238.02 L393.67 238.97 L394.46 239.94 L395.26 240.95 L396.05 241.98 L396.84 243.04 L397.64 244.13 L398.43 245.24 L399.22 246.39 L400.02 247.56 L400.81 248.75 L401.6 249.97 L402.4 251.22 L403.19 252.49 L403.98 253.79 L404.78 255.11 L405.57 256.46 L406.36 257.83 L407.16 259.21 L407.95 260.62 L408.75 262.05 L409.54 263.5 L410.33 264.96 L411.13 266.44 L411.92 267.94 L412.71 269.45 L413.51 270.97 L414.3 272.5 L415.09 274.04 L415.89 275.58 L416.68 277.13 L417.47 278.69 L418.27 280.24 L419.06 281.8 L419.85 283.36 L420.65 284.91 L421.44 286.47 L422.23 288.01 L423.03 289.55 L423.82 291.08 L424.61 292.59 L425.41 294.1 L426.2 295.59 L426.99 297.07 L427.79 298.53 L428.58 299.98 L429.37 301.4 L430.17 302.81 L430.96 304.19 L431.75 305.56 L432.55 306.9 L433.34 308.22 L434.14 309.51 L434.93 310.78 L435.72 312.02 L436.52 313.24 L437.31 314.43 L438.1 315.6 L438.9 316.74 L439.69 317.85 L440.48 318.93 L441.28 319.98 L442.07 321.01 L442.86 322.01 L443.66 322.99 L444.45 323.93 L445.24 324.85 L446.04 325.74 L446.83 326.61 L447.62 327.45 L448.42 328.26 L449.21 329.05 L450 329.81 L450.8 330.55 L451.59 331.26 L452.38 331.95 L453.18 332.62 L453.97 333.26 L454.76 333.88 L455.56 334.48 L456.35 335.06 L457.15 335.61 L457.94 336.15 L458.73 336.67 L459.53 337.16 L460.32 337.64 L461.11 338.1 L461.91 338.55 L462.7 338.97 L463.49 339.38 L464.29 339.78 L465.08 340.16 L465.87 340.52 L466.67 340.87 L467.46 341.21 L468.25 341.53 L469.05 341.84 L469.84 342.14 L470.63 342.42 L471.43 342.69 L472.22 342.96 L473.01 343.21 L473.81 343.45 L474.6 343.68 L475.39 343.9 L476.19 344.11 L476.98 344.32 L477.77 344.51 L478.57 344.7 L479.36 344.88 L480.16 345.05 L480.95 345.21 L481.74 345.37 L482.54 345.52 L483.33 345.66 L484.12 345.8 L484.92 345.93 L485.71 346.06 L486.5 346.18 L487.3 346.29 L488.09 346.4 L488.88 346.51 L489.68 346.61 L490.47 346.71 L491.26 346.8 L492.06 346.89 L492.85 346.97 L493.64 347.05 L494.44 347.13 L495.23 347.21 L496.02 347.28 L496.82 347.34 L497.61 347.41 L498.4 347.47 L499.2 347.53 L499.99 347.59 L500.78 347.64 L501.58 347.69 L502.37 347.74 L503.17 347.79 L503.96 347.83 L504.75 347.88 L505.55 347.92 L506.34 347.96 L507.13 347.99 L507.93 348.03 L508.72 348.06 L509.51 348.1 L510.31 348.13 L511.1 348.16 L511.89 348.19 L512.69 348.21 L513.48 348.24" fill="none" stroke="#0a0aff" stroke-width="2.1" />
<path d="M323.85 213.01 L324.64 213.01 L325.43 213.01 L326.23 213.01 L327.02 213.01 L327.81 213.01 L328.61 213.01 L329.4 213.01 L330.19 213.02 L330.99 213.02 L331.78 213.02 L332.57 213.02 L333.37 213.02 L334.16 213.02 L334.95 213.03 L335.75 213.03 L336.54 213.03 L337.33 213.03 L338.13 213.04 L338.92 213.04 L339.72 213.04 L340.51 213.05 L341.3 213.05 L342.1 213.05 L342.89 213.06 L343.68 213.06 L344.48 213.07 L345.27 213.08 L346.06 213.08 L346.86 213.09 L347.65 213.1 L348.44 213.1 L349.24 213.11 L350.03 213.12 L350.82 213.13 L351.62 213.14 L352.41 213.16 L353.2 213.17 L354 213.18 L354.79 213.2 L355.58 213.22 L356.38 213.23 L357.17 213.25 L357.96 213.28 L358.76 213.3 L359.55 213.32 L360.34 213.35 L361.14 213.38 L361.93 213.41 L362.73 213.45 L363.52 213.49 L364.31 213.53 L365.11 213.57 L365.9 213.62 L366.69 213.67 L367.49 213.73 L368.28 213.79 L369.07 213.85 L369.87 213.93 L370.66 214 L371.45 214.09 L372.25 214.18 L373.04 214.28 L373.83 214.39 L374.63 214.5 L375.42 214.63 L376.21 214.76 L377.01 214.91 L377.8 215.07 L378.59 215.24 L379.39 215.42 L380.18 215.63 L380.97 215.84 L381.77 216.08 L382.56 216.33 L383.35 216.6 L384.15 216.9 L384.94 217.22 L385.74 217.56 L386.53 217.94 L387.32 218.34 L388.12 218.77 L388.91 219.23 L389.7 219.73 L390.5 220.27 L391.29 220.85 L392.08 221.47 L392.88 222.14 L393.67 222.86 L394.46 223.62 L395.26 224.44 L396.05 225.32 L396.84 226.26 L397.64 227.26 L398.43 228.33 L399.22 229.47 L400.02 230.68 L400.81 231.97 L401.6 233.33 L402.4 234.77 L403.19 236.29 L403.98 237.9 L404.78 239.59 L405.57 241.37 L406.36 243.23 L407.16 245.18 L407.95 247.21 L408.75 249.33 L409.54 251.53 L410.33 253.81 L411.13 256.16 L411.92 258.58 L412.71 261.07 L413.51 263.61 L414.3 266.21 L415.09 268.86 L415.89 271.54 L416.68 274.26 L417.47 276.99 L418.27 279.74 L419.06 282.5 L419.85 285.24 L420.65 287.98 L421.44 290.69 L422.23 293.36 L423.03 296 L423.82 298.6 L424.61 301.13 L425.41 303.61 L426.2 306.02 L426.99 308.36 L427.79 310.63 L428.58 312.81 L429.37 314.91 L430.17 316.93 L430.96 318.87 L431.75 320.72 L432.55 322.48 L433.34 324.16 L434.14 325.75 L434.93 327.26 L435.72 328.69 L436.52 330.04 L437.31 331.32 L438.1 332.51 L438.9 333.64 L439.69 334.7 L440.48 335.69 L441.28 336.62 L442.07 337.49 L442.86 338.3 L443.66 339.06 L444.45 339.77 L445.24 340.43 L446.04 341.04 L446.83 341.62 L447.62 342.15 L448.42 342.64 L449.21 343.1 L450 343.53 L450.8 343.93 L451.59 344.29 L452.38 344.63 L453.18 344.95 L453.97 345.24 L454.76 345.51 L455.56 345.76 L456.35 345.99 L457.15 346.21 L457.94 346.41 L458.73 346.59 L459.53 346.76 L460.32 346.92 L461.11 347.06 L461.91 347.19 L462.7 347.32 L463.49 347.43 L464.29 347.54 L465.08 347.64 L465.87 347.73 L466.67 347.81 L467.46 347.89 L468.25 347.96 L469.05 348.02 L469.84 348.08 L470.63 348.14 L471.43 348.19 L472.22 348.24 L473.01 348.28 L473.81 348.32 L474.6 348.36 L475.39 348.39 L476.19 348.42 L476.98 348.45 L477.77 348.48 L478.57 348.5 L479.36 348.53 L480.16 348.55 L480.95 348.57 L481.74 348.59 L482.54 348.6 L483.33 348.62 L484.12 348.63 L484.92 348.65 L485.71 348.66 L486.5 348.67 L487.3 348.68 L488.09 348.69 L488.88 348.7 L489.68 348.7 L490.47 348.71 L491.26 348.72 L492.06 348.73 L492.85 348.73 L493.64 348.74 L494.44 348.74 L495.23 348.75 L496.02 348.75 L496.82 348.75 L497.61 348.76 L498.4 348.76 L499.2 348.76 L499.99 348.77 L500.78 348.77 L501.58 348.77 L502.37 348.77 L503.17 348.78 L503.96 348.78 L504.75 348.78 L505.55 348.78 L506.34 348.78 L507.13 348.78 L507.93 348.79 L508.72 348.79 L509.51 348.79 L510.31 348.79 L511.1 348.79 L511.89 348.79 L512.69 348.79 L513.48 348.79" fill="none" stroke="#14f014" stroke-width="2.1" />
<path d="M323.85 215.5 L324.64 215.54 L325.43 215.58 L326.23 215.62 L327.02 215.66 L327.81 215.7 L328.61 215.75 L329.4 215.79 L330.19 215.84 L330.99 215.88 L331.78 215.93 L332.57 215.98 L333.37 216.03 L334.16 216.08 L334.95 216.14 L335.75 216.19 L336.54 216.25 L337.33 216.3 L338.13 216.36 L338.92 216.42 L339.72 216.48 L340.51 216.55 L341.3 216.61 L342.1 216.68 L342.89 216.75 L343.68 216.82 L344.48 216.89 L345.27 216.97 L346.06 217.04 L346.86 217.12 L347.65 217.2 L348.44 217.29 L349.24 217.37 L350.03 217.46 L350.82 217.55 L351.62 217.65 L352.41 217.74 L353.2 217.84 L354 217.94 L354.79 218.05 L355.58 218.16 L356.38 218.27 L357.17 218.39 L357.96 218.51 L358.76 218.63 L359.55 218.76 L360.34 218.89 L361.14 219.03 L361.93 219.17 L362.73 219.32 L363.52 219.47 L364.31 219.62 L365.11 219.79 L365.9 219.95 L366.69 220.13 L367.49 220.31 L368.28 220.5 L369.07 220.69 L369.87 220.89 L370.66 221.1 L371.45 221.32 L372.25 221.54 L373.04 221.78 L373.83 222.02 L374.63 222.28 L375.42 222.54 L376.21 222.82 L377.01 223.1 L377.8 223.4 L378.59 223.71 L379.39 224.04 L380.18 224.38 L380.97 224.73 L381.77 225.1 L382.56 225.49 L383.35 225.89 L384.15 226.31 L384.94 226.75 L385.74 227.21 L386.53 227.7 L387.32 228.2 L388.12 228.73 L388.91 229.29 L389.7 229.87 L390.5 230.48 L391.29 231.12 L392.08 231.79 L392.88 232.49 L393.67 233.23 L394.46 234 L395.26 234.81 L396.05 235.66 L396.84 236.55 L397.64 237.49 L398.43 238.47 L399.22 239.49 L400.02 240.57 L400.81 241.7 L401.6 242.88 L402.4 244.11 L403.19 245.4 L403.98 246.74 L404.78 248.15 L405.57 249.61 L406.36 251.13 L407.16 252.71 L407.95 254.35 L408.75 256.04 L409.54 257.8 L410.33 259.61 L411.13 261.47 L411.92 263.38 L412.71 265.34 L413.51 267.35 L414.3 269.39 L415.09 271.47 L415.89 273.57 L416.68 275.7 L417.47 277.84 L418.27 279.99 L419.06 282.15 L419.85 284.3 L420.65 286.44 L421.44 288.56 L422.23 290.66 L423.03 292.74 L423.82 294.77 L424.61 296.77 L425.41 298.72 L426.2 300.63 L426.99 302.48 L427.79 304.29 L428.58 306.03 L429.37 307.72 L430.17 309.35 L430.96 310.92 L431.75 312.43 L432.55 313.88 L433.34 315.28 L434.14 316.61 L434.93 317.89 L435.72 319.11 L436.52 320.29 L437.31 321.4 L438.1 322.47 L438.9 323.49 L439.69 324.46 L440.48 325.39 L441.28 326.28 L442.07 327.12 L442.86 327.93 L443.66 328.69 L444.45 329.42 L445.24 330.12 L446.04 330.79 L446.83 331.42 L447.62 332.03 L448.42 332.6 L449.21 333.15 L450 333.68 L450.8 334.18 L451.59 334.66 L452.38 335.12 L453.18 335.56 L453.97 335.98 L454.76 336.38 L455.56 336.76 L456.35 337.13 L457.15 337.48 L457.94 337.81 L458.73 338.14 L459.53 338.45 L460.32 338.74 L461.11 339.03 L461.91 339.3 L462.7 339.56 L463.49 339.82 L464.29 340.06 L465.08 340.29 L465.87 340.52 L466.67 340.73 L467.46 340.94 L468.25 341.14 L469.05 341.33 L469.84 341.52 L470.63 341.7 L471.43 341.87 L472.22 342.04 L473.01 342.2 L473.81 342.36 L474.6 342.51 L475.39 342.65 L476.19 342.79 L476.98 342.93 L477.77 343.06 L478.57 343.19 L479.36 343.31 L480.16 343.43 L480.95 343.55 L481.74 343.66 L482.54 343.77 L483.33 343.87 L484.12 343.97 L484.92 344.07 L485.71 344.17 L486.5 344.26 L487.3 344.35 L488.09 344.44 L488.88 344.53 L489.68 344.61 L490.47 344.69 L491.26 344.77 L492.06 344.85 L492.85 344.92 L493.64 344.99 L494.44 345.06 L495.23 345.13 L496.02 345.2 L496.82 345.26 L497.61 345.33 L498.4 345.39 L499.2 345.45 L499.99 345.51 L500.78 345.56 L501.58 345.62 L502.37 345.67 L503.17 345.73 L503.96 345.78 L504.75 345.83 L505.55 345.88 L506.34 345.92 L507.13 345.97 L507.93 346.02 L508.72 346.06 L509.51 346.1 L510.31 346.15 L511.1 346.19 L511.89 346.23 L512.69 346.27 L513.48 346.31" fill="none" stroke="#ffa51e" stroke-width="2.1" />
<path d="M323.85 217.18 L324.64 217.25 L325.43 217.31 L326.23 217.37 L327.02 217.44 L327.81 217.51 L328.61 217.57 L329.4 217.64 L330.19 217.72 L330.99 217.79 L331.78 217.86 L332.57 217.94 L333.37 218.02 L334.16 218.1 L334.95 218.18 L335.75 218.26 L336.54 218.35 L337.33 218.44 L338.13 218.53 L338.92 218.62 L339.72 218.71 L340.51 218.81 L341.3 218.91 L342.1 219.01 L342.89 219.11 L343.68 219.22 L344.48 219.32 L345.27 219.44 L346.06 219.55 L346.86 219.67 L347.65 219.79 L348.44 219.91 L349.24 220.03 L350.03 220.16 L350.82 220.29 L351.62 220.43 L352.41 220.57 L353.2 220.71 L354 220.86 L354.79 221.01 L355.58 221.16 L356.38 221.32 L357.17 221.49 L357.96 221.65 L358.76 221.82 L359.55 222 L360.34 222.18 L361.14 222.37 L361.93 222.56 L362.73 222.76 L363.52 222.96 L364.31 223.17 L365.11 223.38 L365.9 223.6 L366.69 223.83 L367.49 224.06 L368.28 224.3 L369.07 224.55 L369.87 224.8 L370.66 225.07 L371.45 225.34 L372.25 225.61 L373.04 225.9 L373.83 226.2 L374.63 226.5 L375.42 226.81 L376.21 227.14 L377.01 227.47 L377.8 227.81 L378.59 228.17 L379.39 228.53 L380.18 228.91 L380.97 229.3 L381.77 229.7 L382.56 230.11 L383.35 230.54 L384.15 230.98 L384.94 231.44 L385.74 231.91 L386.53 232.39 L387.32 232.9 L388.12 233.41 L388.91 233.95 L389.7 234.5 L390.5 235.07 L391.29 235.67 L392.08 236.28 L392.88 236.91 L393.67 237.56 L394.46 238.24 L395.26 238.94 L396.05 239.66 L396.84 240.41 L397.64 241.18 L398.43 241.99 L399.22 242.82 L400.02 243.68 L400.81 244.57 L401.6 245.5 L402.4 246.46 L403.19 247.45 L403.98 248.49 L404.78 249.56 L405.57 250.68 L406.36 251.84 L407.16 253.04 L407.95 254.3 L408.75 255.61 L409.54 256.98 L410.33 258.41 L411.13 259.91 L411.92 261.49 L412.71 263.15 L413.51 264.91 L414.3 266.77 L415.09 268.76 L415.89 270.91 L416.68 273.26 L417.47 275.9 L418.27 279.08 L419.06 283.29 L419.85 286.34 L420.65 288.93 L421.44 291.24 L422.23 293.37 L423.03 295.34 L423.82 297.18 L424.61 298.92 L425.41 300.57 L426.2 302.13 L426.99 303.62 L427.79 305.04 L428.58 306.4 L429.37 307.7 L430.17 308.95 L430.96 310.15 L431.75 311.3 L432.55 312.41 L433.34 313.48 L434.14 314.51 L434.93 315.5 L435.72 316.45 L436.52 317.37 L437.31 318.26 L438.1 319.12 L438.9 319.94 L439.69 320.74 L440.48 321.51 L441.28 322.26 L442.07 322.98 L442.86 323.67 L443.66 324.34 L444.45 324.99 L445.24 325.62 L446.04 326.23 L446.83 326.82 L447.62 327.39 L448.42 327.94 L449.21 328.47 L450 328.99 L450.8 329.48 L451.59 329.97 L452.38 330.44 L453.18 330.89 L453.97 331.33 L454.76 331.75 L455.56 332.17 L456.35 332.56 L457.15 332.95 L457.94 333.33 L458.73 333.69 L459.53 334.04 L460.32 334.38 L461.11 334.72 L461.91 335.04 L462.7 335.35 L463.49 335.65 L464.29 335.95 L465.08 336.23 L465.87 336.51 L466.67 336.78 L467.46 337.04 L468.25 337.29 L469.05 337.54 L469.84 337.77 L470.63 338.01 L471.43 338.23 L472.22 338.45 L473.01 338.67 L473.81 338.87 L474.6 339.07 L475.39 339.27 L476.19 339.46 L476.98 339.65 L477.77 339.83 L478.57 340 L479.36 340.17 L480.16 340.34 L480.95 340.5 L481.74 340.66 L482.54 340.81 L483.33 340.96 L484.12 341.11 L484.92 341.25 L485.71 341.39 L486.5 341.53 L487.3 341.66 L488.09 341.79 L488.88 341.91 L489.68 342.03 L490.47 342.15 L491.26 342.27 L492.06 342.38 L492.85 342.49 L493.64 342.6 L494.44 342.71 L495.23 342.81 L496.02 342.91 L496.82 343.01 L497.61 343.1 L498.4 343.2 L499.2 343.29 L499.99 343.38 L500.78 343.46 L501.58 343.55 L502.37 343.63 L503.17 343.71 L503.96 343.79 L504.75 343.87 L505.55 343.95 L506.34 344.02 L507.13 344.1 L507.93 344.17 L508.72 344.24 L509.51 344.3 L510.31 344.37 L511.1 344.44 L511.89 344.5 L512.69 344.56 L513.48 344.63" fill="none" stroke="#ff0000" stroke-width="2.1" />
<text x="397.9" y="395.6" font-size="17.6" text-anchor="start" font-family='"Liberation Sans", sans-serif' >ε (meV)</text>
<text x="326.6" y="235.8" font-size="15.2" text-anchor="start" font-family='"Liberation Sans", sans-serif' >(d)</text>
<g transform="translate(292.1 277.0)"><path d="M1.1 0.4 C-0.4 1.5 -0.2 3.5 2 4.8 C5 6.4 10 6.6 13.5 7.9 C15.6 8.8 16.4 10.2 15.2 11.5 M4.3 3.3 L3.9 7.6" fill="none" stroke="#111" stroke-width="1.15" stroke-linecap="round"/><circle cx="1.2" cy="0.5" r="0.8" fill="#111"/><circle cx="15.1" cy="11.4" r="0.8" fill="#111"/></g>
<text transform="translate(308.4 280.3) rotate(-90)" font-size="12.5" font-style="italic" font-family='"Liberation Serif", serif'>eff</text>
<rect x="440.5" y="221.6" width="61.4" height="66.4" fill="#fff" stroke="#1a1a1a" stroke-width="1.1"/>
<line x1="446.4" y1="233.2" x2="470" y2="233.2" stroke="#ff0000" stroke-width="2.1" />
<text x="475.6" y="237.8" font-size="13" text-anchor="start" font-family='"Liberation Sans", sans-serif' >0 K</text>
<line x1="446.4" y1="248.17" x2="470" y2="248.17" stroke="#ffa51e" stroke-width="2.1" />
<text x="475.6" y="252.77" font-size="13" text-anchor="start" font-family='"Liberation Sans", sans-serif' >70</text>
<line x1="446.4" y1="263.14" x2="470" y2="263.14" stroke="#14f014" stroke-width="2.1" />
<text x="475.6" y="267.74" font-size="13" text-anchor="start" font-family='"Liberation Sans", sans-serif' >90</text>
<line x1="446.4" y1="278.11" x2="470" y2="278.11" stroke="#0a0aff" stroke-width="2.1" />
<text x="475.6" y="282.71" font-size="13" text-anchor="start" font-family='"Liberation Sans", sans-serif' >150</text>
<rect x="613.9" y="12.4" width="321.25" height="339" fill="none" stroke="#1a1a1a" stroke-width="1.35"/>
<text x="613.9" y="372.4" font-size="15.3" text-anchor="middle" font-family='"Liberation Sans", sans-serif' >0</text>
<line x1="632.48" y1="351.4" x2="632.48" y2="345.8" stroke="#1a1a1a" stroke-width="1.35" />
<line x1="651.05" y1="351.4" x2="651.05" y2="345.8" stroke="#1a1a1a" stroke-width="1.35" />
<line x1="669.62" y1="351.4" x2="669.62" y2="345.8" stroke="#1a1a1a" stroke-width="1.35" />
<line x1="688.2" y1="351.4" x2="688.2" y2="340.8" stroke="#1a1a1a" stroke-width="1.35" />
<text x="688.2" y="372.4" font-size="15.3" text-anchor="middle" font-family='"Liberation Sans", sans-serif' >40</text>
<line x1="706.77" y1="351.4" x2="706.77" y2="345.8" stroke="#1a1a1a" stroke-width="1.35" />
<line x1="725.35" y1="351.4" x2="725.35" y2="345.8" stroke="#1a1a1a" stroke-width="1.35" />
<line x1="743.92" y1="351.4" x2="743.92" y2="345.8" stroke="#1a1a1a" stroke-width="1.35" />
<line x1="762.5" y1="351.4" x2="762.5" y2="340.8" stroke="#1a1a1a" stroke-width="1.35" />
<text x="762.5" y="372.4" font-size="15.3" text-anchor="middle" font-family='"Liberation Sans", sans-serif' >80</text>
<line x1="781.07" y1="351.4" x2="781.07" y2="345.8" stroke="#1a1a1a" stroke-width="1.35" />
<line x1="799.65" y1="351.4" x2="799.65" y2="345.8" stroke="#1a1a1a" stroke-width="1.35" />
<line x1="818.22" y1="351.4" x2="818.22" y2="345.8" stroke="#1a1a1a" stroke-width="1.35" />
<line x1="836.8" y1="351.4" x2="836.8" y2="340.8" stroke="#1a1a1a" stroke-width="1.35" />
<text x="836.8" y="372.4" font-size="15.3" text-anchor="middle" font-family='"Liberation Sans", sans-serif' >120</text>
<line x1="855.38" y1="351.4" x2="855.38" y2="345.8" stroke="#1a1a1a" stroke-width="1.35" />
<line x1="873.95" y1="351.4" x2="873.95" y2="345.8" stroke="#1a1a1a" stroke-width="1.35" />
<line x1="892.52" y1="351.4" x2="892.52" y2="345.8" stroke="#1a1a1a" stroke-width="1.35" />
<line x1="911.1" y1="351.4" x2="911.1" y2="340.8" stroke="#1a1a1a" stroke-width="1.35" />
<text x="911.1" y="372.4" font-size="15.3" text-anchor="middle" font-family='"Liberation Sans", sans-serif' >160</text>
<line x1="929.67" y1="351.4" x2="929.67" y2="345.8" stroke="#1a1a1a" stroke-width="1.35" />
<line x1="613.9" y1="29.5" x2="624.9" y2="29.5" stroke="#1a1a1a" stroke-width="1.35" />
<text x="606.7" y="34.9" font-size="15.8" text-anchor="end" font-family='"Liberation Sans", sans-serif' >0.5</text>
<line x1="613.9" y1="76.55" x2="624.9" y2="76.55" stroke="#1a1a1a" stroke-width="1.35" />
<text x="606.7" y="81.95" font-size="15.8" text-anchor="end" font-family='"Liberation Sans", sans-serif' >0.0</text>
<line x1="613.9" y1="123.6" x2="624.9" y2="123.6" stroke="#1a1a1a" stroke-width="1.35" />
<text x="606.7" y="129" font-size="15.8" text-anchor="end" font-family='"Liberation Sans", sans-serif' >-0.5</text>
<line x1="613.9" y1="170.65" x2="624.9" y2="170.65" stroke="#1a1a1a" stroke-width="1.35" />
<text x="606.7" y="176.05" font-size="15.8" text-anchor="end" font-family='"Liberation Sans", sans-serif' >-1.0</text>
<line x1="613.9" y1="217.7" x2="624.9" y2="217.7" stroke="#1a1a1a" stroke-width="1.35" />
<text x="606.7" y="223.1" font-size="15.8" text-anchor="end" font-family='"Liberation Sans", sans-serif' >-1.5</text>
<line x1="613.9" y1="264.75" x2="624.9" y2="264.75" stroke="#1a1a1a" stroke-width="1.35" />
<text x="606.7" y="270.15" font-size="15.8" text-anchor="end" font-family='"Liberation Sans", sans-serif' >-2.0</text>
<line x1="613.9" y1="311.8" x2="624.9" y2="311.8" stroke="#1a1a1a" stroke-width="1.35" />
<text x="606.7" y="317.2" font-size="15.8" text-anchor="end" font-family='"Liberation Sans", sans-serif' >-2.5</text>
<circle cx="697.4" cy="36.9" r="2.75" fill="#00f6ff"/>
<circle cx="686.5" cy="43.6" r="2.75" fill="#00f6ff"/>
<circle cx="684" cy="58.6" r="2.75" fill="#00f6ff"/>
<circle cx="649.5" cy="64.2" r="2.75" fill="#00f6ff"/>
<circle cx="656.5" cy="65.4" r="2.75" fill="#00f6ff"/>
<circle cx="675.9" cy="71.1" r="2.75" fill="#00f6ff"/>
<circle cx="696.8" cy="67.9" r="2.75" fill="#00f6ff"/>
<circle cx="689.5" cy="70" r="2.75" fill="#00f6ff"/>
<circle cx="683.3" cy="74.8" r="2.75" fill="#00f6ff"/>
<circle cx="693.4" cy="75.9" r="2.75" fill="#00f6ff"/>
<circle cx="642.6" cy="78.5" r="2.75" fill="#00f6ff"/>
<circle cx="681.1" cy="78" r="2.75" fill="#00f6ff"/>
<circle cx="684.8" cy="77.7" r="2.75" fill="#00f6ff"/>
<circle cx="679.6" cy="78.4" r="2.75" fill="#00f6ff"/>
<circle cx="700.7" cy="79" r="2.75" fill="#00f6ff"/>
<circle cx="704.4" cy="80.8" r="2.75" fill="#00f6ff"/>
<circle cx="677.3" cy="87.3" r="2.75" fill="#00f6ff"/>
<circle cx="691.5" cy="88.2" r="2.75" fill="#00f6ff"/>
<circle cx="685.7" cy="91.9" r="2.75" fill="#00f6ff"/>
<circle cx="656.3" cy="98.3" r="2.75" fill="#00f6ff"/>
<circle cx="716.1" cy="101.7" r="2.75" fill="#00f6ff"/>
<circle cx="682.4" cy="111.3" r="2.75" fill="#00f6ff"/>
<circle cx="691.1" cy="111.1" r="2.75" fill="#00f6ff"/>
<circle cx="712.7" cy="111.7" r="2.75" fill="#00f6ff"/>
<circle cx="701.7" cy="115.4" r="2.75" fill="#00f6ff"/>
<circle cx="680.3" cy="123.1" r="2.75" fill="#00f6ff"/>
<circle cx="709.7" cy="124" r="2.75" fill="#00f6ff"/>
<circle cx="715.8" cy="133.2" r="2.75" fill="#00f6ff"/>
<circle cx="705.7" cy="140.6" r="2.75" fill="#00f6ff"/>
<circle cx="712" cy="145.9" r="2.75" fill="#00f6ff"/>
<circle cx="736.5" cy="148.7" r="2.75" fill="#00f6ff"/>
<circle cx="703.9" cy="155.2" r="2.75" fill="#00f6ff"/>
<circle cx="719.3" cy="168.7" r="2.75" fill="#00f6ff"/>
<circle cx="717.7" cy="187.8" r="2.75" fill="#00f6ff"/>
<circle cx="658" cy="54.5" r="2.75" fill="#38baff"/>
<circle cx="655.3" cy="69" r="2.75" fill="#38baff"/>
<circle cx="690.8" cy="74.1" r="2.75" fill="#38baff"/>
<circle cx="712.2" cy="81.8" r="2.75" fill="#38baff"/>
<circle cx="695.8" cy="82.3" r="2.75" fill="#38baff"/>
<circle cx="684.1" cy="83.9" r="2.75" fill="#38baff"/>
<circle cx="649.1" cy="90.9" r="2.75" fill="#38baff"/>
<circle cx="657.5" cy="92.1" r="2.75" fill="#38baff"/>
<circle cx="698.5" cy="93.7" r="2.75" fill="#38baff"/>
<circle cx="695.2" cy="95.6" r="2.75" fill="#38baff"/>
<circle cx="686.6" cy="98.6" r="2.75" fill="#38baff"/>
<circle cx="690.3" cy="98" r="2.75" fill="#38baff"/>
<circle cx="686.7" cy="100.6" r="2.75" fill="#38baff"/>
<circle cx="688.9" cy="108" r="2.75" fill="#38baff"/>
<circle cx="697.3" cy="108.6" r="2.75" fill="#38baff"/>
<circle cx="704.8" cy="108.4" r="2.75" fill="#38baff"/>
<circle cx="722.3" cy="114.1" r="2.75" fill="#38baff"/>
<circle cx="691.1" cy="119.7" r="2.75" fill="#38baff"/>
<circle cx="706" cy="119.7" r="2.75" fill="#38baff"/>
<circle cx="702.3" cy="123.4" r="2.75" fill="#38baff"/>
<circle cx="695.8" cy="130.1" r="2.75" fill="#38baff"/>
<circle cx="713.4" cy="130.1" r="2.75" fill="#38baff"/>
<circle cx="724.4" cy="128.9" r="2.75" fill="#38baff"/>
<circle cx="710.3" cy="143.6" r="2.75" fill="#38baff"/>
<circle cx="722.2" cy="150.8" r="2.75" fill="#38baff"/>
<circle cx="692.3" cy="161.5" r="2.75" fill="#38baff"/>
<circle cx="724.8" cy="160.7" r="2.75" fill="#38baff"/>
<circle cx="713.7" cy="174.3" r="2.75" fill="#38baff"/>
<circle cx="732.7" cy="191.8" r="2.75" fill="#38baff"/>
<circle cx="748.1" cy="197.7" r="2.75" fill="#38baff"/>
<circle cx="746.7" cy="201" r="2.75" fill="#38baff"/>
<circle cx="741.7" cy="213.6" r="2.75" fill="#38baff"/>
<circle cx="730.7" cy="217.4" r="2.75" fill="#38baff"/>
<circle cx="743.7" cy="221.3" r="2.75" fill="#38baff"/>
<circle cx="664.3" cy="18.9" r="2.75" fill="#4272ff"/>
<circle cx="700" cy="34.1" r="2.75" fill="#4272ff"/>
<circle cx="701.8" cy="40.5" r="2.75" fill="#4272ff"/>
<circle cx="699.9" cy="43.4" r="2.75" fill="#4272ff"/>
<circle cx="699.7" cy="49.9" r="2.75" fill="#4272ff"/>
<circle cx="705.5" cy="56.6" r="2.75" fill="#4272ff"/>
<circle cx="690.6" cy="59.1" r="2.75" fill="#4272ff"/>
<circle cx="693.7" cy="64.7" r="2.75" fill="#4272ff"/>
<circle cx="694.6" cy="68.7" r="2.75" fill="#4272ff"/>
<circle cx="672.8" cy="71.1" r="2.75" fill="#4272ff"/>
<circle cx="713" cy="75.9" r="2.75" fill="#4272ff"/>
<circle cx="706.3" cy="78" r="2.75" fill="#4272ff"/>
<circle cx="718.3" cy="78" r="2.75" fill="#4272ff"/>
<circle cx="689.1" cy="81.2" r="2.75" fill="#4272ff"/>
<circle cx="695.2" cy="85.1" r="2.75" fill="#4272ff"/>
<circle cx="687.6" cy="89.1" r="2.75" fill="#4272ff"/>
<circle cx="704.8" cy="89.4" r="2.75" fill="#4272ff"/>
<circle cx="712.8" cy="88.2" r="2.75" fill="#4272ff"/>
<circle cx="729.2" cy="96.4" r="2.75" fill="#4272ff"/>
<circle cx="640.7" cy="123.9" r="2.75" fill="#4272ff"/>
<circle cx="688.8" cy="124" r="2.75" fill="#4272ff"/>
<circle cx="711.5" cy="119.1" r="2.75" fill="#4272ff"/>
<circle cx="739.2" cy="119.1" r="2.75" fill="#4272ff"/>
<circle cx="720.1" cy="126.4" r="2.75" fill="#4272ff"/>
<circle cx="718.3" cy="130.7" r="2.75" fill="#4272ff"/>
<circle cx="715.6" cy="137.5" r="2.75" fill="#4272ff"/>
<circle cx="738.3" cy="135" r="2.75" fill="#4272ff"/>
<circle cx="734.3" cy="141.8" r="2.75" fill="#4272ff"/>
<circle cx="703.2" cy="146.4" r="2.75" fill="#4272ff"/>
<circle cx="724.8" cy="175.1" r="2.75" fill="#4272ff"/>
<circle cx="746.1" cy="190.5" r="2.75" fill="#4272ff"/>
<circle cx="747.9" cy="197.9" r="2.75" fill="#4272ff"/>
<circle cx="723.3" cy="202.2" r="2.75" fill="#4272ff"/>
<circle cx="758.9" cy="216.4" r="2.75" fill="#4272ff"/>
<circle cx="765.4" cy="272.4" r="2.75" fill="#4272ff"/>
<circle cx="785" cy="285.5" r="2.75" fill="#4272ff"/>
<circle cx="677.7" cy="46.2" r="2.75" fill="#0000f8"/>
<circle cx="677" cy="52.1" r="2.75" fill="#0000f8"/>
<circle cx="707.4" cy="59.4" r="2.75" fill="#0000f8"/>
<circle cx="695.6" cy="61.7" r="2.75" fill="#0000f8"/>
<circle cx="709.7" cy="65.5" r="2.75" fill="#0000f8"/>
<circle cx="712.7" cy="68.4" r="2.75" fill="#0000f8"/>
<circle cx="699.2" cy="74.4" r="2.75" fill="#0000f8"/>
<circle cx="708.5" cy="77.7" r="2.75" fill="#0000f8"/>
<circle cx="700.1" cy="82.3" r="2.75" fill="#0000f8"/>
<circle cx="719.2" cy="83.9" r="2.75" fill="#0000f8"/>
<circle cx="738.7" cy="81.2" r="2.75" fill="#0000f8"/>
<circle cx="731.3" cy="88.8" r="2.75" fill="#0000f8"/>
<circle cx="668.3" cy="91.5" r="2.75" fill="#0000f8"/>
<circle cx="718" cy="93.1" r="2.75" fill="#0000f8"/>
<circle cx="699.9" cy="98.6" r="2.75" fill="#0000f8"/>
<circle cx="695.3" cy="101.7" r="2.75" fill="#0000f8"/>
<circle cx="700.6" cy="102.6" r="2.75" fill="#0000f8"/>
<circle cx="711" cy="100.5" r="2.75" fill="#0000f8"/>
<circle cx="720.1" cy="103" r="2.75" fill="#0000f8"/>
<circle cx="696.1" cy="105.5" r="2.75" fill="#0000f8"/>
<circle cx="744.1" cy="111.1" r="2.75" fill="#0000f8"/>
<circle cx="704.8" cy="112.9" r="2.75" fill="#0000f8"/>
<circle cx="679.1" cy="116.8" r="2.75" fill="#0000f8"/>
<circle cx="697" cy="116.6" r="2.75" fill="#0000f8"/>
<circle cx="716.4" cy="117.2" r="2.75" fill="#0000f8"/>
<circle cx="739.2" cy="122.5" r="2.75" fill="#0000f8"/>
<circle cx="715.6" cy="125.5" r="2.75" fill="#0000f8"/>
<circle cx="728.4" cy="124.6" r="2.75" fill="#0000f8"/>
<circle cx="702.3" cy="128.3" r="2.75" fill="#0000f8"/>
<circle cx="753" cy="133.6" r="2.75" fill="#0000f8"/>
<circle cx="701.1" cy="146.8" r="2.75" fill="#0000f8"/>
<circle cx="734.3" cy="147.4" r="2.75" fill="#0000f8"/>
<circle cx="754.7" cy="149.8" r="2.75" fill="#0000f8"/>
<circle cx="729.7" cy="158.8" r="2.75" fill="#0000f8"/>
<circle cx="741.6" cy="181.4" r="2.75" fill="#0000f8"/>
<circle cx="751.1" cy="187.8" r="2.75" fill="#0000f8"/>
<circle cx="765.2" cy="221" r="2.75" fill="#0000f8"/>
<circle cx="782.7" cy="282.5" r="2.75" fill="#0000f8"/>
<circle cx="802.4" cy="304.1" r="2.75" fill="#0000f8"/>
<circle cx="916.6" cy="112.2" r="2.6" fill="none" stroke="#222" stroke-width="0.95"/>
<circle cx="916" cy="120.2" r="2.6" fill="none" stroke="#222" stroke-width="0.95"/>
<circle cx="908.2" cy="126" r="2.6" fill="none" stroke="#222" stroke-width="0.95"/>
<circle cx="879.1" cy="156.3" r="2.6" fill="none" stroke="#2a2aff" stroke-width="0.95"/>
<circle cx="884.2" cy="164.8" r="2.6" fill="none" stroke="#222" stroke-width="0.95"/>
<circle cx="894.9" cy="169.5" r="2.6" fill="none" stroke="#222" stroke-width="0.95"/>
<circle cx="854.9" cy="168.7" r="2.6" fill="none" stroke="#2a2aff" stroke-width="0.95"/>
<circle cx="866.8" cy="178" r="2.6" fill="none" stroke="#222" stroke-width="0.95"/>
<circle cx="865.1" cy="187.4" r="2.6" fill="none" stroke="#222" stroke-width="0.95"/>
<circle cx="872.4" cy="187.4" r="2.6" fill="none" stroke="#2a2aff" stroke-width="0.95"/>
<circle cx="876.2" cy="186.6" r="2.6" fill="none" stroke="#2a2aff" stroke-width="0.95"/>
<circle cx="875.4" cy="190.3" r="2.6" fill="none" stroke="#222" stroke-width="0.95"/>
<circle cx="844.3" cy="189" r="2.6" fill="none" stroke="#222" stroke-width="0.95"/>
<circle cx="848.3" cy="190.3" r="2.6" fill="none" stroke="#222" stroke-width="0.95"/>
<circle cx="858.8" cy="191.9" r="2.6" fill="none" stroke="#222" stroke-width="0.95"/>
<circle cx="863.1" cy="194.6" r="2.6" fill="none" stroke="#2a2aff" stroke-width="0.95"/>
<circle cx="893.2" cy="202.3" r="2.6" fill="none" stroke="#222" stroke-width="0.95"/>
<circle cx="840.3" cy="202.2" r="2.6" fill="none" stroke="#222" stroke-width="0.95"/>
<circle cx="843.3" cy="204.2" r="2.6" fill="none" stroke="#222" stroke-width="0.95"/>
<circle cx="847.3" cy="200.3" r="2.6" fill="none" stroke="#222" stroke-width="0.95"/>
<circle cx="851.6" cy="201.2" r="2.6" fill="none" stroke="#222" stroke-width="0.95"/>
<circle cx="836.5" cy="210.4" r="2.6" fill="none" stroke="#222" stroke-width="0.95"/>
<circle cx="834.3" cy="214.7" r="2.6" fill="none" stroke="#2a2aff" stroke-width="0.95"/>
<circle cx="837.7" cy="216.5" r="2.6" fill="none" stroke="#2a2aff" stroke-width="0.95"/>
<circle cx="844.5" cy="214.9" r="2.6" fill="none" stroke="#2a2aff" stroke-width="0.95"/>
<circle cx="852.3" cy="214.1" r="2.6" fill="none" stroke="#222" stroke-width="0.95"/>
<circle cx="863.3" cy="216.5" r="2.6" fill="none" stroke="#222" stroke-width="0.95"/>
<circle cx="833.4" cy="219.2" r="2.6" fill="none" stroke="#2a2aff" stroke-width="0.95"/>
<circle cx="839.6" cy="219.6" r="2.6" fill="none" stroke="#222" stroke-width="0.95"/>
<circle cx="859.6" cy="223.3" r="2.6" fill="none" stroke="#2a2aff" stroke-width="0.95"/>
<circle cx="858.6" cy="228" r="2.6" fill="none" stroke="#222" stroke-width="0.95"/>
<circle cx="839.6" cy="226.4" r="2.6" fill="none" stroke="#222" stroke-width="0.95"/>
<circle cx="843.3" cy="228.8" r="2.6" fill="none" stroke="#222" stroke-width="0.95"/>
<circle cx="848.2" cy="229.7" r="2.6" fill="none" stroke="#2a2aff" stroke-width="0.95"/>
<circle cx="839" cy="230.7" r="2.6" fill="none" stroke="#222" stroke-width="0.95"/>
<circle cx="827.9" cy="230" r="2.6" fill="none" stroke="#2a2aff" stroke-width="0.95"/>
<circle cx="824.8" cy="231.3" r="2.6" fill="none" stroke="#2a2aff" stroke-width="0.95"/>
<circle cx="843.9" cy="232.5" r="2.6" fill="none" stroke="#222" stroke-width="0.95"/>
<circle cx="845.1" cy="235.6" r="2.6" fill="none" stroke="#222" stroke-width="0.95"/>
<circle cx="845.7" cy="238.2" r="2.6" fill="none" stroke="#222" stroke-width="0.95"/>
<circle cx="832.2" cy="236.8" r="2.6" fill="none" stroke="#2a2aff" stroke-width="0.95"/>
<circle cx="824.2" cy="238.6" r="2.6" fill="none" stroke="#2a2aff" stroke-width="0.95"/>
<circle cx="824.8" cy="241.1" r="2.6" fill="none" stroke="#2a2aff" stroke-width="0.95"/>
<circle cx="823.6" cy="241.7" r="2.6" fill="none" stroke="#2a2aff" stroke-width="0.95"/>
<circle cx="823.6" cy="248.6" r="2.6" fill="none" stroke="#2a2aff" stroke-width="0.95"/>
<circle cx="841.1" cy="249" r="2.6" fill="none" stroke="#2a2aff" stroke-width="0.95"/>
<circle cx="846" cy="247.6" r="2.6" fill="none" stroke="#222" stroke-width="0.95"/>
<circle cx="845.7" cy="256.4" r="2.6" fill="none" stroke="#222" stroke-width="0.95"/>
<circle cx="823.6" cy="259.7" r="2.6" fill="none" stroke="#2a2aff" stroke-width="0.95"/>
<circle cx="824.2" cy="260.9" r="2.6" fill="none" stroke="#2a2aff" stroke-width="0.95"/>
<circle cx="826.7" cy="264.6" r="2.6" fill="none" stroke="#2a2aff" stroke-width="0.95"/>
<circle cx="827.9" cy="266.4" r="2.6" fill="none" stroke="#2a2aff" stroke-width="0.95"/>
<circle cx="826.1" cy="268" r="2.6" fill="none" stroke="#2a2aff" stroke-width="0.95"/>
<circle cx="840" cy="267.9" r="2.6" fill="none" stroke="#2a2aff" stroke-width="0.95"/>
<circle cx="826.4" cy="273.2" r="2.6" fill="none" stroke="#2a2aff" stroke-width="0.95"/>
<circle cx="826.4" cy="275" r="2.6" fill="none" stroke="#2a2aff" stroke-width="0.95"/>
<path d="M613.8 79.2 L615.47 79.2 L617.14 79.2 L618.81 79.2 L620.48 79.21 L622.14 79.21 L623.81 79.21 L625.48 79.22 L627.15 79.22 L628.82 79.23 L630.49 79.24 L632.15 79.25 L633.82 79.26 L635.49 79.27 L637.16 79.28 L638.82 79.29 L640.49 79.3 L642.16 79.33 L643.84 79.38 L645.51 79.44 L647.18 79.52 L648.84 79.62 L650.49 79.74 L652.15 80 L653.78 80.37 L655.38 80.81 L656.95 81.39 L658.48 82.1 L659.95 82.91 L661.34 83.79 L662.65 84.81 L663.91 85.94 L665.11 87.11 L666.26 88.31 L667.36 89.57 L668.42 90.87 L669.42 92.2 L670.4 93.55 L671.35 94.93 L672.27 96.33 L673.15 97.76 L673.97 99.21 L674.74 100.67 L675.48 102.15 L676.18 103.65 L676.86 105.17 L677.51 106.7 L678.15 108.24 L678.77 109.8 L679.38 111.36 L679.98 112.92 L680.57 114.49 L681.16 116.06 L681.75 117.63 L682.35 119.2 L682.94 120.76 L683.55 122.31 L684.15 123.87 L684.75 125.42 L685.35 126.98 L685.94 128.54 L686.53 130.1 L687.12 131.67 L687.7 133.23 L688.28 134.8 L688.85 136.37 L689.42 137.93 L689.98 139.51 L690.54 141.08 L691.09 142.65 L691.63 144.23 L692.17 145.81 L692.7 147.39 L693.22 148.97 L693.74 150.55 L694.26 152.14 L694.78 153.72 L695.29 155.31 L695.8 156.9 L696.3 158.49 L696.8 160.08 L697.3 161.68 L697.8 163.27 L698.29 164.87 L698.77 166.46 L699.26 168.06 L699.74 169.66 L700.22 171.26 L700.69 172.86 L701.16 174.46 L701.63 176.06 L702.09 177.67 L702.55 179.27 L703.01 180.87 L703.47 182.48 L703.92 184.09 L704.36 185.69 L704.81 187.3 L705.25 188.91 L705.68 190.52 L706.11 192.13 L706.52 193.74 L706.94 195.36 L707.35 196.98 L707.75 198.6 L708.15 200.22 L708.54 201.84 L708.94 203.46 L709.33 205.08 L709.72 206.7 L710.11 208.33 L710.5 209.95 L710.89 211.57 L711.28 213.19 L711.68 214.82 L712.07 216.44 L712.47 218.06 L712.88 219.68 L713.29 221.29 L713.7 222.91 L714.12 224.52 L714.55 226.14 L714.98 227.75 L715.42 229.36 L715.85 230.96 L716.29 232.57 L716.74 234.18 L717.18 235.79 L717.63 237.4 L718.07 239.01 L718.52 240.61 L718.98 242.22 L719.43 243.83 L719.89 245.43 L720.35 247.04 L720.82 248.64 L721.28 250.24 L721.75 251.84 L722.22 253.44 L722.7 255.04 L723.17 256.64 L723.65 258.24 L724.14 259.84 L724.62 261.43 L725.11 263.03 L725.61 264.62 L726.1 266.21 L726.6 267.8 L727.11 269.39 L727.61 270.98 L728.13 272.57 L728.65 274.15 L729.17 275.73 L729.7 277.32 L730.24 278.9 L730.78 280.47 L731.33 282.05 L731.87 283.63 L732.43 285.2 L732.98 286.78 L733.54 288.35 L734.1 289.92 L734.67 291.49 L735.23 293.06 L735.8 294.63 L736.37 296.2 L736.94 297.77 L737.51 299.34 L738.07 300.91 L738.63 302.49 L739.19 304.06 L739.75 305.64 L740.31 307.22 L740.88 308.8 L741.45 310.37 L742.03 311.94 L742.61 313.5 L743.21 315.06 L743.82 316.62 L744.44 318.16 L745.07 319.7 L745.72 321.23 L746.39 322.75 L747.08 324.25 L747.78 325.77 L748.49 327.3 L749.22 328.84 L749.97 330.38 L750.74 331.9 L751.54 333.4 L752.38 334.86 L753.26 336.26 L754.19 337.61 L755.16 338.89 L756.21 340.09 L757.36 341.23 L758.62 342.33 L759.96 343.37 L761.36 344.36 L762.8 345.3 L763.87 344.9 L764.9 344.43 L765.88 343.9 L766.79 343.33 L767.63 342.71 L768.39 342.04 L769.11 341.27 L769.78 340.41 L770.42 339.5 L771.02 338.54 L771.59 337.58 L772.13 336.63 L772.65 335.69 L773.15 334.74 L773.63 333.77 L774.1 332.79 L774.56 331.81 L775 330.81 L775.43 329.81 L775.86 328.8 L776.27 327.78 L776.67 326.76 L777.07 325.74 L777.46 324.72 L777.85 323.7 L778.24 322.68 L778.63 321.67 L779.01 320.65 L779.38 319.63 L779.75 318.61 L780.11 317.58 L780.47 316.56 L780.82 315.53 L781.17 314.5 L781.51 313.46 L781.84 312.42 L782.17 311.39 L782.49 310.34 L782.8 309.3" fill="none" stroke="#f00" stroke-width="1.2" stroke-dasharray="2 1.9"/>
<path d="M613.8 77 L614.65 77 L615.5 77 L616.35 77 L617.2 77 L618.05 77 L618.9 77 L619.74 77 L620.59 77 L621.44 77 L622.29 77 L623.14 77 L623.99 77 L624.84 77 L625.69 77 L626.54 77 L627.39 77 L628.24 77 L629.09 77 L629.94 77 L630.78 77 L631.63 77 L632.48 77 L633.33 77 L634.18 77 L635.03 77 L635.88 77 L636.73 77 L637.58 77 L638.43 77 L639.28 77 L640.13 77 L640.98 77 L641.83 77.01 L642.67 77.01 L643.52 77.02 L644.37 77.03 L645.22 77.05 L646.07 77.06 L646.92 77.08 L647.77 77.1 L648.62 77.12 L649.47 77.14 L650.32 77.16 L651.17 77.18 L652.02 77.21 L652.87 77.23 L653.71 77.26 L654.56 77.29 L655.41 77.31 L656.26 77.34 L657.11 77.38 L657.96 77.42 L658.81 77.47 L659.66 77.52 L660.51 77.57 L661.36 77.63 L662.21 77.69 L663.06 77.75 L663.91 77.82 L664.75 77.89 L665.6 77.97 L666.45 78.04 L667.3 78.12 L668.15 78.21 L669 78.29 L669.85 78.38 L670.7 78.48 L671.55 78.58 L672.4 78.7 L673.25 78.82 L674.1 78.96 L674.95 79.1 L675.79 79.26 L676.64 79.43 L677.49 79.6 L678.34 79.8 L679.19 80 L680.04 80.21 L680.89 80.45 L681.74 80.72 L682.59 81.03 L683.44 81.36 L684.29 81.72 L685.14 82.11 L685.99 82.53 L686.84 82.96 L687.68 83.41 L688.53 83.89 L689.38 84.37 L690.23 84.88 L691.08 85.39 L691.93 85.91 L692.78 86.44 L693.63 86.98 L694.48 87.52 L695.33 88.08 L696.18 88.67 L697.03 89.29 L697.88 89.95 L698.72 90.63 L699.57 91.34 L700.42 92.06 L701.27 92.81 L702.12 93.57 L702.97 94.34 L703.82 95.13 L704.67 95.91 L705.52 96.71 L706.37 97.5 L707.22 98.3 L708.07 99.11 L708.92 99.94 L709.76 100.78 L710.61 101.65 L711.46 102.54 L712.31 103.45 L713.16 104.38 L714.01 105.32 L714.86 106.28 L715.71 107.25 L716.56 108.25 L717.41 109.27 L718.26 110.32 L719.11 111.39 L719.96 112.5 L720.81 113.64 L721.65 114.83 L722.5 116.06 L723.35 117.34 L724.2 118.65 L725.05 119.99 L725.9 121.36 L726.75 122.75 L727.6 124.15 L728.45 125.57 L729.3 127 L730.15 128.43 L731 129.9 L731.85 131.39 L732.69 132.91 L733.54 134.45 L734.39 136.02 L735.24 137.61 L736.09 139.22 L736.94 140.85 L737.79 142.49 L738.64 144.18 L739.49 145.92 L740.34 147.73 L741.19 149.63 L742.04 151.64 L742.89 153.75 L743.73 155.95 L744.58 158.21 L745.43 160.52 L746.28 162.87 L747.13 165.22 L747.98 167.56 L748.83 169.88 L749.68 172.16 L750.53 174.37 L751.38 176.54 L752.23 178.73 L753.08 181.03 L753.93 183.36 L754.77 185.73 L755.62 188.14 L756.47 190.6 L757.32 193.11 L758.17 195.68 L759.02 198.32 L759.87 201.03 L760.72 203.83 L761.57 206.71 L762.42 209.66 L763.27 212.68 L764.12 215.77 L764.97 218.92 L765.82 222.13 L766.66 225.39 L767.51 228.73 L768.36 232.2 L769.21 235.83 L770.06 239.64 L770.91 243.76 L771.76 248.13 L772.61 252.67 L773.46 257.29 L774.31 261.88 L775.16 266.37 L776.01 270.79 L776.86 275.2 L777.7 279.62 L778.55 284.1 L779.4 288.67 L780.25 293.37 L781.1 298.25 L781.95 303.31 L782.8 308.5 L784.73 305.81 L786.66 303.12 L788.59 300.43 L790.52 297.75 L792.45 295.07 L794.38 292.38 L796.31 289.69 L798.24 286.99 L800.17 284.31 L802.1 281.64 L804.03 279.01 L805.96 276.41 L807.89 273.87 L809.83 271.38 L811.76 268.9 L813.69 266.41 L815.62 263.9 L817.55 261.34 L819.48 258.7 L821.41 256.01 L823.34 253.28 L825.27 250.5 L827.2 247.69 L829.13 244.86 L831.06 242 L832.99 239.12 L834.92 236.21 L836.85 233.27 L838.78 230.31 L840.71 227.32 L842.64 224.32 L844.57 221.3 L846.5 218.26 L848.43 215.22 L850.36 212.18 L852.29 209.13 L854.22 206.08 L856.15 203.04 L858.08 200.01 L860.02 196.99 L861.95 193.99 L863.88 190.99 L865.81 187.99 L867.74 185 L869.67 182.01 L871.6 179.02 L873.53 176.03 L875.46 173.05 L877.39 170.06 L879.32 167.07 L881.25 164.08 L883.18 161.08 L885.11 158.09 L887.04 155.09 L888.97 152.08 L890.9 149.07 L892.83 146.06 L894.76 143.04 L896.69 140.01 L898.62 136.98 L900.55 133.94 L902.48 130.9 L904.41 127.86 L906.34 124.81 L908.27 121.76 L910.21 118.71 L912.14 115.65 L914.07 112.59 L916 109.53 L917.93 106.46 L919.86 103.39 L921.79 100.32 L923.72 97.24 L925.65 94.16 L927.58 91.07 L929.51 87.99 L931.44 84.89 L933.37 81.8 L935.3 78.7" fill="none" stroke="#f00" stroke-width="2.35" stroke-linejoin="miter" stroke-miterlimit="10"/>
<text x="773.4" y="396.3" font-size="17.5" text-anchor="middle" font-family='"Liberation Sans", sans-serif' >Temperature (K)</text>
<text transform="translate(565.8 182.7) rotate(-90)" font-size="17.2" text-anchor="middle" font-family='"Liberation Sans", sans-serif'>Δμ<tspan font-size="9.5" dy="4" dx="1">ε</tspan><tspan dy="-4" dx="-0.5"> (meV)</tspan></text>
<text x="627.6" y="29.9" font-size="15.4" text-anchor="start" font-family='"Liberation Sans", sans-serif' >(e)</text>
<text x="773.8" y="31.3" font-size="15.3" text-anchor="start" font-family='"Liberation Sans", sans-serif' >Experiment:</text>
<text x="773.8" y="53.6" font-size="15.2" text-anchor="start" font-family='"Liberation Sans", sans-serif' >35 K</text>
<text x="773.8" y="119.9" font-size="15.5" text-anchor="start" font-family='"Liberation Sans", sans-serif' >115K</text>
<circle cx="822.5" cy="48.4" r="4.7" fill="#00f6ff"/>
<text x="842.3" y="53.7" font-size="15" text-anchor="start" font-family='"Liberation Sans", sans-serif' >3 μJ/cm<tspan font-size="9" dy="-5">2</tspan></text>
<circle cx="822.5" cy="64.9" r="4.7" fill="#38baff"/>
<text x="842.3" y="70.2" font-size="15" text-anchor="start" font-family='"Liberation Sans", sans-serif' >7</text>
<circle cx="822.5" cy="81.4" r="4.7" fill="#4272ff"/>
<text x="842.3" y="86.7" font-size="15" text-anchor="start" font-family='"Liberation Sans", sans-serif' >14</text>
<circle cx="822.5" cy="97.9" r="4.7" fill="#0000f8"/>
<text x="842.3" y="103.2" font-size="15" text-anchor="start" font-family='"Liberation Sans", sans-serif' >20</text>
<circle cx="822.5" cy="114.4" r="4.25" fill="#fff" stroke="#2a2aff" stroke-width="0.9"/>
<text x="842.3" y="119.7" font-size="15" text-anchor="start" font-family='"Liberation Sans", sans-serif' >20</text>
<circle cx="822.5" cy="130.9" r="4.25" fill="#fff" stroke="#222" stroke-width="0.9"/>
<text x="842.3" y="136.2" font-size="15" text-anchor="start" font-family='"Liberation Sans", sans-serif' >30</text>
<text x="626.7" y="288.2" font-size="15.3" text-anchor="start" font-family='"Liberation Sans", sans-serif' >Models</text>
<line x1="628.7" y1="301.7" x2="655.9" y2="301.7" stroke="#f00" stroke-width="2.35" />
<line x1="628.7" y1="322.1" x2="655.9" y2="322.1" stroke="#f00" stroke-width="1.2" stroke-dasharray="2 1.9"/>
<text x="662.3" y="307" font-size="15.2" text-anchor="start" font-family='"Liberation Sans", sans-serif' >μ</text>
<text x="669.8" y="309.9" font-size="10.4" text-anchor="start" font-family='"Liberation Sans", sans-serif' >pair</text>
<text x="691.5" y="307" font-size="15.2" text-anchor="start" font-family='"Liberation Sans", sans-serif' >=</text>
<text x="704.3" y="307" font-size="15.2" text-anchor="start" font-family='"Liberation Sans", sans-serif' >μ</text>
<text x="712" y="309.9" font-size="10" text-anchor="start" font-family='"Liberation Sans", sans-serif' >QP</text>
<text x="662.3" y="325.9" font-size="15.2" text-anchor="start" font-family='"Liberation Sans", sans-serif' >μ</text>
<text x="669.8" y="328.8" font-size="10.4" text-anchor="start" font-family='"Liberation Sans", sans-serif' >pair</text>
<text x="691.5" y="325.9" font-size="15.2" text-anchor="start" font-family='"Liberation Sans", sans-serif' >=</text>
<text x="704.8" y="325.9" font-size="15.2" text-anchor="start" font-family='"Liberation Sans", sans-serif' >const.</text>
</g>
</svg>
</body></html>
